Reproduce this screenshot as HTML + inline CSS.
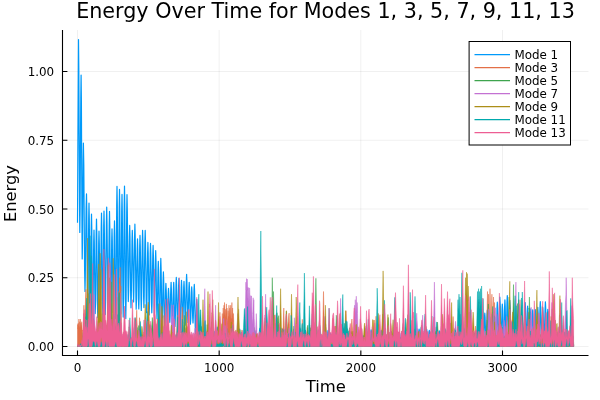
<!DOCTYPE html><html><head><meta charset="utf-8"><style>html,body{margin:0;padding:0;background:#fff;width:600px;height:400px;overflow:hidden}svg{display:block}</style></head><body>
<svg width="600" height="400" viewBox="0 0 600 400">
<rect width="600" height="400" fill="#fff"/>
<path d="M77.50 30V355.5M219.17 30V355.5M360.84 30V355.5M502.51 30V355.5M62.5 346.48H588.5M62.5 277.74H588.5M62.5 209.00H588.5M62.5 140.25H588.5M62.5 71.51H588.5" stroke="#000" stroke-opacity="0.1" stroke-width="0.6" fill="none"/>
<path d="M77.5 222.7 78.0 126.5 78.5 39.5 78.8 67.7 79.2 135.9 79.5 204.1 79.8 232.4 80.1 209.3 80.4 153.7 80.8 98.0 81.1 75.0 81.4 102.0 81.7 167.0 82.0 232.1 82.2 259.0 82.5 242.0 82.8 201.0 83.1 160.0 83.4 143.0 83.8 164.7 84.2 217.2 84.6 269.7 85.0 291.5 85.3 277.2 85.7 242.6 86.1 208.1 86.5 193.8 86.8 211.2 87.1 253.4 87.4 295.6 87.8 313.1 88.1 296.9 88.4 258.0 88.7 219.1 89.0 203.0 89.3 219.5 89.6 259.2 89.9 298.9 90.2 315.4 90.6 300.5 90.9 264.7 91.2 228.8 91.5 214.0 91.8 228.9 92.1 265.0 92.4 301.0 92.8 316.0 93.1 303.4 93.4 273.0 93.7 242.6 94.0 230.0 94.3 242.2 94.6 271.8 94.9 301.3 95.2 313.6 95.6 299.7 95.9 266.3 96.2 232.8 96.5 219.0 96.8 233.4 97.1 268.3 97.4 303.2 97.8 317.6 98.1 305.0 98.4 274.3 98.7 243.7 99.0 231.0 99.3 243.9 99.6 274.9 99.9 306.0 100.2 318.9 100.6 303.4 100.9 265.9 101.2 228.5 101.5 213.0 101.8 227.8 102.1 263.5 102.4 299.3 102.8 314.1 103.1 299.0 103.4 262.5 103.7 226.1 104.0 211.0 104.3 226.2 104.7 262.8 105.0 299.4 105.3 314.6 105.7 298.8 106.0 260.8 106.4 222.8 106.7 207.0 107.0 222.4 107.4 259.4 107.8 296.5 108.1 311.8 108.4 297.1 108.8 261.6 109.2 226.1 109.5 211.4 109.8 226.7 110.1 263.5 110.4 300.3 110.8 315.6 111.1 302.9 111.4 272.2 111.7 241.6 112.0 228.9 112.3 241.1 112.6 270.7 112.9 300.3 113.2 312.5 113.6 299.1 113.9 266.7 114.2 234.3 114.5 220.9 114.8 235.2 115.1 269.9 115.4 304.5 115.8 318.8 116.1 299.4 116.4 252.6 116.7 205.8 117.0 186.4 117.3 205.8 117.6 252.6 117.9 299.4 118.2 318.8 118.6 299.8 118.9 254.1 119.2 208.3 119.5 189.4 119.8 207.7 120.1 251.7 120.4 295.8 120.8 314.0 121.1 296.5 121.4 254.2 121.7 211.9 122.0 194.4 122.3 212.4 122.6 255.8 122.9 299.1 123.2 317.1 123.6 297.9 123.9 251.6 124.2 205.2 124.5 186.0 124.8 205.4 125.1 252.2 125.4 299.0 125.8 318.4 126.1 300.3 126.4 256.5 126.7 212.8 127.0 194.7 127.3 210.3 127.7 248.1 128.0 286.0 128.3 301.6 128.7 290.5 129.0 263.5 129.4 236.6 129.7 225.4 130.0 237.5 130.3 266.6 130.7 295.7 131.0 307.8 131.3 296.4 131.7 269.1 132.0 241.7 132.3 230.4 132.6 240.9 133.0 266.1 133.3 291.4 133.6 301.9 133.9 290.5 134.2 263.0 134.6 235.5 134.9 224.2 135.2 236.6 135.6 266.7 135.9 296.8 136.2 309.2 136.5 298.9 136.8 274.1 137.2 249.2 137.5 238.9 137.8 249.2 138.1 273.9 138.4 298.6 138.8 308.9 139.1 298.1 139.4 272.1 139.7 246.2 140.0 235.4 140.3 246.4 140.7 272.9 141.0 299.5 141.3 310.4 141.6 298.7 141.9 270.4 142.3 242.1 142.6 230.4 142.9 241.7 143.2 269.0 143.6 296.3 143.9 307.6 144.2 296.3 144.5 269.0 144.9 241.7 145.2 230.4 145.5 242.5 145.9 271.6 146.2 300.7 146.6 312.7 146.9 302.4 147.2 277.6 147.6 252.7 147.9 242.4 148.2 253.0 148.6 278.7 148.9 304.4 149.2 315.0 149.5 304.5 149.8 279.2 150.2 253.9 150.5 243.4 150.8 253.6 151.2 278.1 151.5 302.6 151.8 312.8 152.1 302.9 152.4 279.1 152.8 255.3 153.1 245.4 153.4 255.7 153.8 280.6 154.1 305.5 154.4 315.8 154.7 306.3 155.0 283.2 155.4 260.2 155.7 250.7 156.0 260.6 156.3 284.7 156.7 308.8 157.0 318.8 157.3 310.4 157.7 290.1 158.0 269.8 158.3 261.4 158.6 272.1 158.9 298.1 159.2 324.0 159.6 334.8 159.9 323.6 160.2 296.6 160.5 269.6 160.8 258.4 161.1 268.6 161.5 293.1 161.8 317.7 162.1 327.9 162.4 319.7 162.8 299.9 163.1 280.1 163.4 271.9 163.7 280.0 164.0 299.4 164.3 318.8 164.7 326.9 165.0 320.5 165.3 305.1 165.6 289.8 165.9 283.4 166.2 289.5 166.6 304.3 166.9 319.1 167.2 325.2 167.5 319.8 167.8 306.8 168.2 293.8 168.5 288.4 168.8 293.4 169.2 305.4 169.5 317.4 169.8 322.3 170.1 316.5 170.4 302.4 170.8 288.2 171.1 282.4 171.4 289.5 171.8 306.5 172.1 323.5 172.4 330.6 172.7 323.5 173.0 306.5 173.4 289.5 173.7 282.4 174.0 288.9 174.3 304.4 174.7 320.0 175.0 326.5 175.3 319.3 175.7 301.9 176.0 284.6 176.3 277.4 176.6 285.0 177.0 303.4 177.3 321.8 177.6 329.4 177.9 321.9 178.2 303.9 178.6 285.9 178.9 278.4 179.2 286.3 179.6 305.5 179.9 324.6 180.2 332.5 180.5 324.9 180.8 306.5 181.2 288.0 181.5 280.4 181.8 286.7 182.1 301.8 182.4 317.0 182.8 323.3 183.1 317.1 183.4 302.3 183.7 287.5 184.0 281.4 184.3 287.8 184.7 303.3 185.0 318.8 185.3 325.2 185.6 317.8 185.9 299.8 186.3 281.8 186.6 274.4 186.9 281.4 187.2 298.5 187.6 315.5 187.9 322.5 188.2 316.6 188.5 302.5 188.9 288.3 189.2 282.4 189.5 288.5 189.8 303.3 190.1 318.1 190.4 324.2 190.8 318.7 191.1 305.5 191.4 292.4 191.7 286.9 192.0 292.2 192.3 304.9 192.7 317.6 193.0 322.9 193.3 317.2 193.7 303.6 194.0 290.0 194.3 284.4 194.6 291.6 194.9 309.1 195.2 326.5 195.6 333.7 195.9 328.7 196.2 316.6 196.5 304.4 196.8 299.4 197.1 304.7 197.4 317.3 197.7 330.0 198.1 335.3 198.4 333.9 198.7 330.7 199.0 327.5 199.3 326.1 199.6 327.1 200.0 329.4 200.3 331.8 200.6 332.8 200.9 332.7 201.3 332.5 201.6 332.2 201.9 332.2 202.2 333.8 202.5 337.8 202.8 341.8 203.2 343.4 203.5 340.3 203.8 332.9 204.1 325.4 204.4 322.3 204.7 325.2 205.0 332.3 205.4 339.3 205.7 342.3 206.0 340.7 206.3 337.0 206.6 333.3 207.0 331.8 207.3 333.5 207.6 337.5 207.9 341.6 208.2 343.3 208.6 340.9 208.9 335.1 209.2 329.3 209.5 326.9 209.8 329.3 210.2 335.0 210.5 340.6 210.8 343.0 211.1 340.9 211.5 335.8 211.8 330.7 212.1 328.6 212.4 330.6 212.8 335.3 213.1 340.0 213.4 342.0 213.7 340.4 214.0 336.8 214.3 333.1 214.7 331.6 215.0 333.5 215.3 338.2 215.6 342.9 215.9 344.8 216.2 342.2 216.5 335.9 216.9 329.6 217.2 327.0 217.5 329.2 217.8 334.6 218.1 340.1 218.4 342.3 218.8 340.5 219.1 336.3 219.4 332.0 219.7 330.2 220.0 332.4 220.4 337.6 220.7 342.8 221.0 344.9 221.3 342.8 221.6 337.7 221.9 332.5 222.2 330.4 222.6 332.4 222.9 337.2 223.2 342.1 223.5 344.1 223.8 342.6 224.1 339.0 224.4 335.5 224.7 334.0 225.0 335.2 225.4 338.1 225.7 340.9 226.0 342.1 226.3 340.6 226.6 337.1 226.9 333.5 227.3 332.0 227.6 333.5 227.9 337.2 228.2 340.8 228.5 342.3 228.8 340.7 229.1 337.0 229.4 333.2 229.7 331.6 230.0 333.4 230.3 337.5 230.6 341.7 230.9 343.4 231.2 341.5 231.6 336.7 231.9 331.9 232.2 330.0 232.5 332.0 232.8 336.9 233.1 341.9 233.4 343.9 233.7 342.7 234.0 339.7 234.3 336.7 234.6 335.5 234.9 336.4 235.3 338.6 235.6 340.8 235.9 341.7 236.2 340.6 236.5 338.0 236.9 335.4 237.2 334.3 237.5 335.7 237.8 339.1 238.1 342.6 238.4 344.0 238.7 341.8 239.1 336.6 239.4 331.4 239.7 329.2 240.0 331.5 240.3 337.1 240.6 342.7 240.9 345.0 241.3 343.6 241.6 340.2 241.9 336.8 242.2 335.4 242.5 336.6 242.9 339.7 243.2 342.8 243.5 344.1 243.8 342.7 244.1 339.5 244.5 336.3 244.8 334.9 245.1 336.4 245.4 340.0 245.7 343.5 246.0 345.0 246.3 343.5 246.7 339.9 247.0 336.3 247.3 334.8 247.6 335.8 247.9 338.3 248.2 340.7 248.6 341.8 248.9 340.8 249.2 338.3 249.5 335.9 249.8 334.9 250.1 336.3 250.5 339.8 250.8 343.2 251.1 344.6 251.4 342.9 251.8 338.7 252.1 334.5 252.4 332.7 252.7 333.9 253.0 336.9 253.3 339.9 253.6 341.1 254.0 339.6 254.3 336.0 254.6 332.3 254.9 330.8 255.2 332.8 255.5 337.5 255.8 342.3 256.1 344.2 256.4 343.1 256.7 340.3 257.0 337.6 257.3 336.4 257.6 337.5 258.0 340.1 258.3 342.8 258.6 343.8 258.9 341.6 259.2 336.1 259.5 330.6 259.9 328.4 260.2 330.5 260.5 335.5 260.8 340.6 261.2 342.7 261.5 341.0 261.8 336.8 262.1 332.6 262.5 330.9 262.8 332.8 263.1 337.4 263.4 341.9 263.7 343.8 264.0 342.7 264.4 340.1 264.7 337.4 265.0 336.3 265.3 337.4 265.6 339.9 266.0 342.5 266.3 343.5 266.6 341.8 266.9 337.6 267.3 333.5 267.6 331.7 267.9 333.6 268.2 338.2 268.5 342.8 268.8 344.7 269.2 343.1 269.5 339.3 269.8 335.5 270.1 334.0 270.4 335.4 270.7 338.7 271.0 342.1 271.3 343.5 271.6 342.3 271.9 339.3 272.3 336.4 272.6 335.2 272.9 336.6 273.2 340.1 273.5 343.6 273.8 345.0 274.1 342.8 274.4 337.3 274.7 331.9 275.1 329.7 275.4 331.8 275.7 336.9 276.0 342.1 276.3 344.2 276.6 342.9 276.9 339.9 277.2 336.8 277.6 335.5 277.9 336.4 278.2 338.4 278.5 340.5 278.8 341.4 279.1 340.6 279.5 338.7 279.8 336.8 280.1 336.1 280.4 337.2 280.7 340.0 281.1 342.8 281.4 343.9 281.7 341.8 282.0 336.6 282.3 331.4 282.6 329.2 283.0 331.4 283.3 336.6 283.6 341.8 283.9 344.0 284.2 341.9 284.6 337.0 284.9 332.0 285.2 329.9 285.5 331.8 285.8 336.1 286.2 340.5 286.5 342.3 286.8 341.4 287.1 339.1 287.4 336.8 287.8 335.8 288.1 336.6 288.4 338.6 288.7 340.6 289.0 341.5 289.3 340.4 289.6 337.8 290.0 335.2 290.3 334.2 290.6 335.6 290.9 339.0 291.2 342.5 291.6 343.9 291.9 342.2 292.2 338.2 292.5 334.2 292.9 332.5 293.2 334.1 293.5 338.0 293.8 341.9 294.1 343.6 294.4 342.3 294.7 339.2 295.0 336.1 295.3 334.8 295.6 335.9 295.9 338.5 296.3 341.1 296.6 342.2 296.9 341.0 297.2 338.3 297.5 335.6 297.8 334.5 298.2 335.5 298.5 338.1 298.8 340.8 299.1 341.8 299.4 339.9 299.7 335.3 300.0 330.7 300.3 328.8 300.6 330.8 300.9 335.7 301.2 340.6 301.5 342.6 301.8 341.2 302.2 337.8 302.5 334.4 302.8 333.0 303.1 334.7 303.4 338.7 303.7 342.7 304.1 344.4 304.4 342.3 304.7 337.4 305.0 332.5 305.4 330.4 305.7 332.5 306.0 337.4 306.3 342.3 306.6 344.4 306.9 343.1 307.2 340.2 307.5 337.2 307.9 336.0 308.2 336.9 308.5 339.0 308.8 341.1 309.1 342.0 309.4 340.9 309.8 338.3 310.1 335.6 310.4 334.6 310.7 335.7 311.0 338.4 311.4 341.1 311.7 342.2 312.0 340.5 312.4 336.3 312.7 332.2 313.0 330.5 313.3 332.1 313.6 335.9 313.9 339.8 314.3 341.4 314.6 339.9 314.9 336.3 315.2 332.6 315.5 331.1 315.8 332.7 316.2 336.5 316.5 340.3 316.8 341.9 317.1 340.2 317.5 336.0 317.8 331.9 318.1 330.1 318.4 332.1 318.7 336.8 319.0 341.4 319.3 343.4 319.7 342.2 320.0 339.4 320.3 336.5 320.6 335.3 320.9 336.7 321.2 340.0 321.5 343.2 321.8 344.6 322.2 343.2 322.5 340.0 322.8 336.7 323.1 335.4 323.4 336.3 323.7 338.4 324.0 340.5 324.3 341.4 324.7 339.8 325.0 335.8 325.3 331.8 325.6 330.1 325.9 331.9 326.2 336.2 326.5 340.5 326.9 342.2 327.2 340.5 327.5 336.3 327.8 332.1 328.1 330.3 328.4 332.1 328.8 336.5 329.1 340.9 329.4 342.7 329.7 341.4 330.0 338.2 330.3 335.0 330.6 333.6 330.9 334.9 331.3 338.0 331.6 341.0 331.9 342.3 332.2 340.2 332.5 335.3 332.8 330.4 333.1 328.3 333.4 330.6 333.8 335.9 334.1 341.3 334.4 343.5 334.7 342.2 335.0 339.0 335.3 335.9 335.6 334.6 336.0 335.9 336.3 339.1 336.6 342.4 336.9 343.7 337.3 342.6 337.6 339.9 337.9 337.2 338.2 336.1 338.6 337.1 338.9 339.4 339.2 341.8 339.5 342.7 339.9 341.1 340.2 337.0 340.5 333.0 340.9 331.3 341.2 333.1 341.5 337.2 341.8 341.4 342.1 343.1 342.4 341.6 342.7 337.8 343.0 334.0 343.4 332.5 343.7 333.9 344.0 337.3 344.3 340.8 344.6 342.2 345.0 340.6 345.3 336.9 345.6 333.1 345.9 331.5 346.2 333.0 346.6 336.4 346.9 339.8 347.2 341.2 347.5 340.5 347.8 338.8 348.1 337.0 348.4 336.3 348.7 337.0 349.1 338.9 349.4 340.8 349.7 341.6 350.0 340.2 350.3 336.8 350.6 333.4 351.0 332.0 351.3 333.7 351.6 337.8 351.9 341.8 352.2 343.5 352.5 342.1 352.8 338.7 353.2 335.3 353.5 333.9 353.8 335.3 354.1 338.7 354.4 342.2 354.7 343.6 355.1 342.1 355.4 338.6 355.7 335.1 356.0 333.7 356.3 334.8 356.6 337.5 356.9 340.2 357.3 341.3 357.6 340.2 357.9 337.6 358.2 335.1 358.5 334.0 358.8 335.4 359.1 338.7 359.5 342.1 359.8 343.5 360.1 341.4 360.4 336.3 360.7 331.2 361.0 329.1 361.3 330.9 361.6 335.4 361.9 339.9 362.2 341.8 362.5 340.9 362.8 338.8 363.1 336.7 363.4 335.9 363.8 337.2 364.1 340.3 364.4 343.4 364.7 344.7 365.0 342.4 365.4 336.7 365.7 331.0 366.0 328.6 366.3 330.8 366.6 335.9 367.0 341.1 367.3 343.2 367.6 341.4 367.9 337.0 368.2 332.6 368.5 330.8 368.9 332.6 369.2 336.9 369.5 341.2 369.8 343.0 370.2 341.1 370.5 336.5 370.8 331.8 371.1 329.9 371.5 331.7 371.8 335.8 372.1 340.0 372.4 341.8 372.7 340.8 373.1 338.6 373.4 336.3 373.7 335.4 374.0 336.3 374.3 338.4 374.6 340.6 374.9 341.5 375.3 340.7 375.6 338.8 375.9 337.0 376.2 336.2 376.5 337.4 376.8 340.3 377.1 343.3 377.4 344.5 377.7 342.5 378.1 337.6 378.4 332.7 378.7 330.7 379.0 332.4 379.3 336.6 379.6 340.8 379.9 342.6 380.2 340.8 380.6 336.4 380.9 332.1 381.2 330.3 381.5 332.1 381.8 336.4 382.1 340.7 382.4 342.5 382.8 340.7 383.1 336.3 383.4 331.9 383.7 330.1 384.0 332.2 384.3 337.3 384.6 342.4 384.9 344.5 385.2 343.2 385.5 340.0 385.8 336.8 386.1 335.4 386.4 336.4 386.8 338.6 387.1 340.8 387.4 341.7 387.7 340.3 388.0 337.1 388.3 333.8 388.7 332.5 389.0 334.0 389.3 337.6 389.6 341.3 389.9 342.8 390.3 341.2 390.6 337.2 390.9 333.2 391.2 331.6 391.5 333.0 391.8 336.4 392.1 339.7 392.5 341.1 392.8 340.2 393.1 337.9 393.4 335.6 393.7 334.6 394.0 336.0 394.3 339.5 394.7 342.9 395.0 344.3 395.3 342.8 395.6 339.0 395.9 335.2 396.3 333.6 396.6 335.0 396.9 338.3 397.2 341.6 397.6 342.9 397.9 341.7 398.2 338.6 398.6 335.5 398.9 334.2 399.2 335.6 399.5 339.0 399.8 342.4 400.1 343.8 400.5 342.2 400.8 338.5 401.1 334.7 401.4 333.2 401.7 334.5 402.1 337.8 402.4 341.1 402.7 342.5 403.0 340.8 403.3 336.7 403.6 332.7 404.0 331.0 404.3 332.7 404.6 336.8 404.9 340.9 405.2 342.6 405.5 341.4 405.9 338.5 406.2 335.6 406.5 334.5 406.8 335.7 407.1 338.7 407.4 341.7 407.7 343.0 408.0 341.9 408.3 339.4 408.6 336.8 408.9 335.8 409.3 337.0 409.6 339.8 409.9 342.6 410.2 343.8 410.6 342.0 410.9 337.9 411.2 333.8 411.5 332.1 411.8 333.7 412.2 337.5 412.5 341.4 412.8 343.0 413.1 341.9 413.4 339.2 413.7 336.4 414.0 335.3 414.4 336.5 414.7 339.4 415.0 342.4 415.3 343.6 415.6 341.6 416.0 336.8 416.3 332.1 416.6 330.1 416.9 331.8 417.2 335.8 417.5 339.8 417.9 341.4 418.2 339.6 418.5 335.3 418.8 330.9 419.1 329.1 419.4 331.2 419.8 336.2 420.1 341.1 420.4 343.2 420.7 341.9 421.0 338.7 421.3 335.4 421.7 334.1 422.0 335.4 422.3 338.6 422.6 341.8 422.9 343.1 423.2 341.8 423.5 338.5 423.9 335.1 424.2 333.8 424.5 335.3 424.8 338.9 425.1 342.5 425.4 344.0 425.8 341.9 426.1 336.7 426.4 331.5 426.7 329.4 427.0 331.5 427.3 336.7 427.7 341.9 428.0 344.1 428.3 342.1 428.6 337.2 428.9 332.4 429.3 330.4 429.6 332.0 429.9 335.8 430.2 339.6 430.5 341.2 430.9 339.6 431.2 335.6 431.5 331.7 431.8 330.1 432.1 332.1 432.4 337.0 432.8 341.8 433.1 343.8 433.4 342.1 433.7 337.9 434.0 333.7 434.3 331.9 434.6 333.3 434.9 336.7 435.2 340.1 435.6 341.5 435.9 340.1 436.2 336.8 436.5 333.4 436.8 332.0 437.1 333.6 437.4 337.3 437.7 341.1 438.0 342.7 438.4 340.9 438.7 336.7 439.0 332.5 439.3 330.8 439.6 332.3 439.9 335.9 440.2 339.6 440.5 341.1 440.8 339.8 441.1 336.8 441.5 333.7 441.8 332.5 442.1 334.2 442.4 338.5 442.7 342.7 443.0 344.4 443.3 343.1 443.7 340.1 444.0 337.0 444.3 335.7 444.6 336.5 444.9 338.5 445.2 340.4 445.5 341.2 445.9 340.1 446.2 337.4 446.5 334.6 446.8 333.5 447.1 334.7 447.5 337.7 447.8 340.7 448.1 341.9 448.4 340.4 448.8 336.7 449.1 333.0 449.4 331.5 449.7 333.1 450.1 337.1 450.4 341.1 450.7 342.8 451.0 341.3 451.3 337.9 451.6 334.5 452.0 333.0 452.3 334.4 452.6 337.6 452.9 340.8 453.2 342.2 453.5 341.2 453.8 338.8 454.1 336.4 454.4 335.4 454.7 336.4 455.1 338.8 455.4 341.1 455.7 342.1 456.0 340.8 456.3 337.6 456.7 334.5 457.0 333.2 457.3 334.6 457.6 338.2 457.9 341.8 458.2 343.3 458.6 341.7 458.9 337.9 459.2 334.0 459.5 332.5 459.8 333.9 460.1 337.5 460.5 341.0 460.8 342.5 461.1 341.0 461.4 337.4 461.7 333.8 462.0 332.4 462.4 334.1 462.7 338.3 463.0 342.4 463.3 344.2 463.6 343.0 463.9 340.3 464.3 337.6 464.6 336.5 464.9 337.7 465.2 340.8 465.5 343.8 465.8 345.0 466.2 343.2 466.5 338.9 466.8 334.6 467.1 332.8 467.4 334.2 467.8 337.6 468.1 340.9 468.4 342.3 468.7 341.4 469.0 339.3 469.4 337.1 469.7 336.2 470.0 337.2 470.3 339.7 470.6 342.1 470.9 343.1 471.2 341.5 471.5 337.7 471.8 333.8 472.2 332.2 472.5 333.5 472.8 336.8 473.1 340.0 473.5 341.4 473.8 340.2 474.1 337.2 474.4 334.3 474.8 333.1 475.1 334.7 475.4 338.6 475.7 342.4 476.0 344.0 476.3 342.1 476.6 337.4 476.9 332.6 477.2 330.7 477.6 332.3 477.9 336.2 478.2 340.1 478.5 341.7 478.8 340.6 479.1 338.0 479.4 335.3 479.7 334.2 480.1 335.2 480.4 337.6 480.7 340.0 481.0 341.0 481.3 339.3 481.6 335.2 482.0 331.1 482.3 329.4 482.6 331.2 482.9 335.4 483.2 339.6 483.5 341.4 483.9 337.3 484.2 327.3 484.5 317.3 484.8 313.2 485.1 317.3 485.4 327.2 485.7 337.0 486.0 341.1 486.4 336.6 486.7 325.6 487.0 314.5 487.3 310.0 487.6 315.0 487.9 327.2 488.2 339.4 488.5 344.4 488.8 340.4 489.1 330.7 489.4 321.0 489.7 317.0 490.0 321.0 490.4 330.7 490.7 340.4 491.0 344.4 491.3 340.0 491.7 329.2 492.0 318.5 492.3 314.0 492.6 318.4 492.9 329.1 493.2 339.7 493.6 344.2 493.9 340.2 494.2 330.6 494.5 321.1 494.8 317.1 495.1 321.0 495.4 330.4 495.7 339.7 496.1 343.6 496.4 337.6 496.7 322.9 497.0 308.3 497.3 302.2 497.6 308.4 497.9 323.4 498.3 338.4 498.6 344.6 498.9 337.7 499.2 320.9 499.5 304.1 499.8 297.1 500.2 304.0 500.5 320.8 500.8 337.5 501.1 344.5 501.4 338.6 501.7 324.3 502.0 310.0 502.3 304.1 502.7 310.1 503.0 324.6 503.3 339.0 503.6 345.0 503.9 338.4 504.3 322.5 504.6 306.5 504.9 299.9 505.2 306.0 505.5 320.6 505.8 335.2 506.1 341.3 506.4 334.6 506.7 318.4 507.0 302.3 507.3 295.6 507.7 302.7 508.0 319.6 508.3 336.6 508.6 343.6 508.9 337.3 509.2 322.0 509.5 306.7 509.8 300.4 510.2 306.6 510.5 321.5 510.8 336.4 511.1 342.5 511.5 341.2 511.8 338.0 512.1 334.9 512.4 333.6 512.7 335.0 513.0 338.4 513.4 341.8 513.7 343.2 514.0 341.6 514.3 337.5 514.6 333.5 514.9 331.8 515.2 333.3 515.6 336.9 515.9 340.5 516.2 342.0 516.5 340.4 516.8 336.6 517.2 332.7 517.5 331.1 517.8 332.7 518.1 336.4 518.4 340.2 518.8 341.8 519.1 339.9 519.4 335.4 519.7 330.9 520.1 329.0 520.4 331.2 520.7 336.3 521.0 341.4 521.3 343.5 521.7 342.4 522.0 339.6 522.3 336.8 522.6 335.6 522.9 336.7 523.3 339.3 523.6 341.8 523.9 342.9 524.2 337.0 524.5 322.8 524.9 308.6 525.2 302.7 525.5 308.9 525.8 323.7 526.1 338.6 526.4 344.7 526.7 339.1 527.0 325.4 527.3 311.8 527.6 306.1 527.9 311.7 528.2 325.0 528.5 338.4 528.9 343.9 529.2 338.8 529.5 326.4 529.8 314.0 530.1 308.9 530.5 314.0 530.8 326.5 531.1 339.0 531.4 344.2 531.7 339.2 532.0 327.0 532.4 314.9 532.7 309.9 533.0 314.8 533.3 326.9 533.7 338.9 534.0 343.8 534.3 338.8 534.6 326.6 535.0 314.5 535.3 309.5 535.6 314.5 535.9 326.6 536.2 338.7 536.5 343.8 536.9 338.4 537.2 325.5 537.5 312.6 537.8 307.3 538.1 312.5 538.4 325.0 538.7 337.5 539.1 342.7 539.4 336.7 539.7 322.1 540.0 307.5 540.3 301.5 540.6 307.7 540.9 322.6 541.2 337.5 541.5 343.7 541.9 338.4 542.2 325.6 542.5 312.8 542.8 307.5 543.1 312.8 543.5 325.6 543.8 338.4 544.1 343.8 544.4 337.6 544.7 322.8 545.1 308.0 545.4 301.9 545.7 307.7 546.0 321.8 546.3 335.8 546.6 341.7 546.9 336.9 547.2 325.5 547.5 314.1 547.8 309.4 548.1 314.6 548.4 327.2 548.7 339.8 549.1 345.1 549.4 343.1 549.7 338.4 550.0 333.6 550.3 331.7 550.6 333.6 551.0 338.4 551.3 343.1 551.6 345.1 551.9 343.7 552.2 340.3 552.5 336.9 552.9 335.5 553.2 336.9 553.5 340.2 553.8 343.5 554.1 344.9 554.4 343.2 554.8 339.1 555.1 335.0 555.4 333.4 555.7 334.6 556.0 337.4 556.4 340.3 556.7 341.5 557.0 340.2 557.3 336.9 557.7 333.7 558.0 332.3 558.3 333.8 558.6 337.4 558.9 341.0 559.2 342.5 559.6 340.5 559.9 335.8 560.2 331.0 560.5 329.1 560.8 331.0 561.1 335.6 561.4 340.2 561.7 342.1 562.1 340.3 562.4 336.0 562.7 331.8 563.0 330.0 563.3 331.6 563.6 335.6 564.0 339.5 564.3 341.2 564.6 339.9 564.9 336.7 565.3 333.6 565.6 332.3 565.9 334.0 566.2 338.2 566.5 342.5 566.8 344.2 567.1 342.6 567.5 338.7 567.8 334.9 568.1 333.3 568.4 334.5 568.7 337.3 569.0 340.1 569.3 341.3 569.6 339.7 570.0 335.7 570.3 331.6 570.6 330.0 570.9 332.1 571.2 337.0 571.5 342.0 571.8 344.1 572.1 343.0 572.4 340.2 572.8 337.5 573.1 336.3" stroke="#009AFA" fill="none" stroke-width="1.2" stroke-linejoin="round"/>
<path d="M77.5 324.5 77.5 324.5 77.9 329.0 78.2 323.1 78.3 325.1 78.7 323.6 78.9 319.0 79.1 323.6 79.5 323.8 79.6 321.7 79.9 327.9 80.3 319.0 80.3 319.0 80.7 328.1 81.0 323.1 81.1 325.1 81.5 325.9 81.7 321.7 81.9 325.9 82.3 331.4 82.4 330.0 82.7 334.1 83.1 337.1 83.5 321.1 83.9 305.2 84.3 318.2 84.7 324.5 85.1 312.2 85.5 299.9 85.9 289.4 86.3 301.8 86.7 314.1 87.1 319.1 87.5 324.0 87.9 329.7 88.3 335.3 88.7 341.0 89.1 343.4 89.5 342.3 89.9 343.7 90.3 342.9 90.7 342.4 91.1 342.7 91.5 343.0 91.9 342.1 92.3 344.3 92.7 344.3 93.1 343.1 93.5 342.1 93.9 342.8 94.3 343.8 94.7 344.3 95.1 343.4 95.5 343.3 95.9 343.3 96.3 343.0 96.7 343.8 97.1 342.3 97.5 338.1 97.9 333.3 98.3 328.4 98.7 326.0 99.1 330.8 99.5 335.7 99.9 325.6 100.3 305.7 100.7 315.9 101.1 335.8 101.5 342.3 101.9 343.9 102.3 344.1 102.7 342.6 103.1 342.0 103.5 342.1 103.9 342.6 104.3 342.2 104.7 342.0 105.1 343.1 105.5 344.2 105.9 342.4 106.3 343.5 106.7 343.7 107.1 343.3 107.5 344.5 107.9 344.5 108.3 343.9 108.7 343.0 109.1 342.6 109.5 342.1 109.9 336.1 110.3 325.9 110.7 315.7 111.1 305.6 111.5 303.3 111.9 313.5 112.3 323.6 112.7 327.4 113.1 319.1 113.5 310.8 113.9 317.8 114.3 326.1 114.7 334.4 115.1 339.9 115.5 341.2 115.9 343.6 116.3 343.8 116.7 343.7 117.1 342.7 117.5 341.9 117.9 323.6 118.3 305.2 118.6 291.5 118.7 296.1 119.1 294.9 119.4 277.7 119.5 283.5 119.9 280.5 120.1 267.3 120.3 280.5 120.7 291.0 120.8 286.0 121.1 301.1 121.5 321.3 121.9 334.9 122.3 338.2 122.7 341.5 123.1 344.4 123.5 344.8 123.9 345.0 124.3 344.8 124.7 345.1 125.1 344.7 125.5 343.6 125.9 342.0 126.3 340.5 126.7 340.9 127.1 342.4 127.5 344.0 127.9 345.0 128.3 344.6 128.7 345.4 129.1 345.1 129.5 344.5 129.9 344.7 130.3 344.7 130.7 344.1 131.1 345.2 131.5 345.1 131.9 344.6 132.3 344.6 132.7 343.9 133.1 343.2 133.5 340.4 133.9 337.7 134.3 336.7 134.7 337.7 135.1 328.0 135.5 318.3 135.9 325.6 136.3 323.1 136.7 310.2 137.1 322.9 137.5 335.8 137.9 344.0 138.3 343.9 138.7 340.0 139.1 328.8 139.5 317.7 139.9 321.9 140.3 333.0 140.7 343.4 141.1 344.7 141.5 343.9 141.9 344.9 142.3 344.2 142.7 344.9 143.1 344.1 143.5 344.1 143.9 344.4 144.3 344.4 144.7 343.7 145.1 343.8 145.5 342.6 145.9 341.8 146.3 343.0 146.7 343.4 147.1 341.1 147.5 330.2 147.9 319.3 148.3 308.5 148.7 304.6 149.1 315.5 149.5 326.4 149.9 324.3 150.3 331.7 150.7 339.0 151.1 336.0 151.5 332.0 151.9 328.2 152.3 332.3 152.7 336.3 153.1 340.4 153.5 336.3 153.9 329.0 154.3 321.6 154.7 314.2 155.1 316.4 155.5 323.8 155.9 331.2 156.3 338.6 156.7 344.4 157.1 344.7 157.5 344.1 157.9 344.3 158.3 344.2 158.7 343.1 159.1 328.8 159.5 314.5 159.9 303.4 160.3 317.7 160.7 328.7 161.1 320.3 161.5 328.7 161.9 337.1 162.3 335.1 162.7 332.1 163.1 335.2 163.5 328.0 163.9 315.4 164.3 319.6 164.7 332.2 165.1 337.6 165.5 333.6 165.9 338.7 166.3 343.8 166.7 344.6 167.1 344.3 167.5 344.9 167.9 343.7 168.3 343.7 168.7 337.3 169.1 330.6 169.5 338.0 169.9 344.7 170.3 344.0 170.7 343.5 171.1 344.0 171.5 339.0 171.9 332.8 172.3 326.7 172.7 322.0 173.1 328.2 173.5 334.3 173.9 340.5 174.3 344.9 174.7 344.9 175.1 345.0 175.5 344.2 175.9 341.9 176.3 338.6 176.7 330.8 177.1 323.0 177.5 315.3 177.9 323.1 178.3 331.0 178.7 338.8 179.1 335.6 179.5 331.6 179.9 338.4 180.3 344.9 180.7 338.9 181.1 330.6 181.5 322.3 181.9 314.1 182.3 306.9 182.7 315.2 183.1 323.4 183.5 331.7 183.9 340.0 184.3 341.4 184.7 339.0 185.1 340.7 185.5 343.1 185.9 344.1 186.3 344.1 186.7 345.1 187.1 343.6 187.5 344.7 187.9 344.2 188.3 344.2 188.7 343.6 189.1 344.1 189.5 343.4 189.9 344.8 190.3 344.0 190.7 344.2 191.1 344.3 191.5 344.1 191.9 342.9 192.3 344.3 192.7 344.1 193.1 345.1 193.5 344.4 193.9 344.4 194.3 344.8 194.7 344.2 195.1 344.1 195.5 345.0 195.9 344.7 196.3 345.1 196.7 344.2 197.1 345.1 197.5 341.7 197.9 335.6 198.3 338.5 198.7 344.7 199.1 343.7 199.5 343.5 199.9 338.9 200.3 334.4 200.7 329.8 201.1 329.4 201.5 333.9 201.9 338.5 202.3 340.4 202.7 337.6 203.1 340.1 203.5 342.9 203.9 345.1 204.3 344.8 204.7 344.4 205.1 343.6 205.5 342.9 205.9 343.2 206.3 343.9 206.7 344.2 207.1 345.1 207.5 344.4 207.9 344.1 208.3 344.2 208.7 343.9 209.1 344.2 209.5 343.7 209.9 345.1 210.3 344.1 210.7 344.5 211.1 344.2 211.5 344.6 211.9 345.0 212.3 344.3 212.7 345.2 213.1 343.8 213.5 337.8 213.9 338.4 214.3 344.3 214.7 344.4 215.1 343.6 215.5 345.2 215.9 344.7 216.3 344.6 216.7 343.9 217.1 344.0 217.5 341.6 217.9 334.3 218.3 327.0 218.7 319.7 219.1 321.7 219.5 325.0 219.9 312.3 220.3 322.3 220.7 332.3 221.1 339.4 221.5 335.5 221.9 324.5 222.3 313.5 222.3 313.5 222.7 324.0 223.1 311.2 223.2 308.0 223.5 317.6 223.9 308.7 224.0 305.2 224.3 309.8 224.5 302.5 224.7 309.6 225.1 317.3 225.5 309.3 225.6 310.7 225.9 317.1 226.3 307.4 226.4 303.9 226.7 314.5 227.0 308.0 227.1 311.2 227.5 324.0 227.9 316.7 228.1 310.7 228.3 316.7 228.7 315.5 229.0 305.2 229.1 308.7 229.5 317.6 229.8 308.0 229.9 311.2 230.3 319.0 230.7 305.2 230.7 305.2 231.1 319.0 231.5 317.1 231.9 302.5 231.9 302.5 232.3 317.1 232.6 308.0 232.7 311.2 233.1 321.7 233.4 313.5 233.5 316.2 233.9 327.2 234.3 338.2 234.7 344.0 235.1 340.0 235.5 337.0 235.9 342.5 236.3 343.1 236.7 336.6 237.1 330.0 237.5 323.4 237.9 329.6 238.3 336.2 238.7 342.8 239.1 345.0 239.5 344.0 239.9 345.0 240.3 344.9 240.7 344.8 241.1 344.3 241.5 343.9 241.9 343.3 242.3 341.1 242.7 338.8 243.1 336.6 243.5 337.7 243.9 332.4 244.3 335.1 244.7 344.4 245.1 344.2 245.5 345.1 245.9 344.6 246.3 345.1 246.7 344.7 247.1 344.0 247.5 344.7 247.9 344.1 248.3 344.0 248.7 342.9 249.1 341.7 249.5 340.8 249.9 338.1 250.3 338.9 250.7 341.6 251.1 343.9 251.5 345.2 251.9 344.4 252.3 344.7 252.7 344.3 253.1 345.1 253.5 344.0 253.9 344.5 254.3 343.7 254.7 345.2 255.1 343.3 255.5 338.7 255.9 334.1 256.3 330.1 256.7 334.7 257.1 339.3 257.5 343.9 257.9 344.5 258.3 344.8 258.7 343.7 259.1 341.6 259.5 337.8 259.9 334.1 260.3 336.1 260.7 339.8 261.1 343.6 261.5 343.8 261.9 344.0 262.3 344.1 262.7 344.1 263.1 344.3 263.5 340.1 263.9 330.5 264.3 321.0 264.7 317.8 265.1 327.3 265.5 336.8 265.9 344.5 266.3 343.9 266.7 344.0 267.1 342.9 267.5 341.8 267.9 344.2 268.3 345.1 268.7 345.0 269.1 344.7 269.5 344.4 269.9 344.7 270.3 344.1 270.7 338.3 271.1 332.5 271.5 335.8 271.9 341.6 272.3 344.1 272.7 344.6 273.1 343.8 273.5 344.2 273.9 344.1 274.3 344.9 274.7 341.6 275.1 338.4 275.5 335.1 275.9 335.2 276.3 338.5 276.7 341.7 277.1 344.0 277.5 343.6 277.9 343.7 278.3 344.5 278.7 343.9 279.1 345.2 279.5 345.1 279.9 344.3 280.3 344.4 280.7 343.9 281.1 340.7 281.5 334.9 281.9 327.8 282.3 332.6 282.7 332.9 283.1 328.8 283.5 316.0 283.8 308.0 283.9 312.8 284.3 325.6 284.7 338.5 285.1 343.2 285.5 344.4 285.9 344.5 286.3 344.3 286.7 341.3 287.1 335.9 287.5 330.4 287.9 324.9 288.3 321.5 288.7 315.7 289.1 313.1 289.5 323.4 289.9 333.8 290.3 341.0 290.7 339.8 291.1 341.4 291.5 342.9 291.9 344.5 292.3 344.0 292.7 338.1 293.1 332.3 293.5 329.1 293.9 334.9 294.3 340.8 294.7 344.5 295.1 341.6 295.5 337.4 295.9 333.2 296.3 329.1 296.7 332.5 297.1 336.7 297.5 340.9 297.9 344.3 298.3 344.8 298.7 344.8 299.1 339.8 299.5 332.4 299.9 327.5 300.3 334.9 300.7 337.0 301.1 338.5 301.5 341.0 301.9 332.6 302.3 319.3 302.7 330.2 303.1 339.5 303.5 336.7 303.9 333.5 304.3 333.0 304.7 336.2 305.1 339.4 305.5 342.6 305.9 344.2 306.3 341.4 306.7 334.5 307.1 327.6 307.5 328.1 307.9 335.0 308.3 340.8 308.7 338.2 309.1 331.5 309.5 324.8 309.9 325.0 310.3 331.7 310.7 338.0 311.1 331.7 311.5 325.3 311.9 327.2 312.3 333.6 312.7 339.9 313.1 344.3 313.5 344.3 313.9 344.3 314.3 344.2 314.7 344.3 315.1 345.2 315.5 341.8 315.9 338.5 316.3 342.1 316.7 344.6 317.1 344.9 317.5 343.9 317.9 344.8 318.3 345.0 318.7 344.0 319.1 344.1 319.5 343.9 319.9 343.3 320.3 341.8 320.7 340.2 321.1 339.7 321.5 341.2 321.9 342.8 322.3 344.3 322.7 328.1 323.1 309.8 323.5 291.5 323.5 291.5 323.9 309.8 324.3 322.0 324.7 331.0 325.1 340.1 325.5 344.3 325.9 344.5 326.3 344.2 326.7 343.8 327.1 343.8 327.5 345.0 327.9 345.1 328.3 344.9 328.7 345.1 329.1 344.1 329.5 344.0 329.9 345.1 330.3 345.2 330.7 344.8 331.1 344.2 331.5 344.1 331.9 344.6 332.3 332.7 332.7 318.4 333.1 319.1 333.5 333.4 333.9 344.2 334.3 343.3 334.7 339.6 335.1 337.2 335.5 340.9 335.9 339.9 336.3 336.5 336.7 334.6 337.1 338.0 337.5 341.4 337.9 344.3 338.3 338.6 338.7 331.6 339.1 324.6 339.5 317.5 339.9 313.7 340.3 320.8 340.7 327.8 341.1 333.8 341.5 333.3 341.9 332.8 342.3 328.5 342.7 327.3 343.1 331.6 343.5 335.9 343.9 340.2 344.3 344.5 344.7 345.3 345.1 337.5 345.5 325.6 345.9 313.7 346.0 310.7 346.3 319.7 346.7 331.6 347.1 343.5 347.5 344.2 347.9 344.9 348.3 344.2 348.7 344.0 349.1 344.3 349.5 343.2 349.9 344.2 350.3 344.1 350.7 343.1 351.1 337.7 351.5 324.2 351.9 319.0 352.3 326.1 352.7 331.6 353.1 337.1 353.5 342.6 353.9 343.3 354.3 342.4 354.7 342.8 355.1 338.3 355.5 331.0 355.9 323.7 356.3 316.4 356.7 319.9 357.1 327.2 357.5 334.5 357.9 341.9 358.3 340.9 358.7 341.7 359.1 338.9 359.5 332.4 359.9 325.8 360.3 319.2 360.7 322.8 361.1 327.3 361.5 334.1 361.9 328.6 362.3 333.1 362.7 339.9 363.1 341.5 363.5 343.6 363.9 344.8 364.3 344.8 364.7 345.5 365.1 342.5 365.5 336.8 365.9 335.0 366.3 340.7 366.7 344.8 367.1 344.8 367.5 344.9 367.9 345.3 368.3 344.5 368.7 345.1 369.1 344.6 369.5 344.9 369.9 344.6 370.3 343.8 370.7 343.0 371.1 342.6 371.5 343.5 371.9 344.3 372.3 344.5 372.7 344.1 373.1 344.8 373.5 332.5 373.9 320.1 374.3 320.3 374.7 332.8 375.1 338.9 375.5 328.8 375.9 318.8 376.0 316.2 376.3 323.8 376.7 333.9 377.1 335.2 377.5 333.6 377.9 336.8 378.3 339.9 378.7 343.1 379.1 344.2 379.5 343.5 379.9 344.1 380.3 344.7 380.7 345.3 381.1 341.3 381.5 334.2 381.9 327.2 382.3 321.8 382.7 314.1 383.1 320.0 383.5 327.7 383.9 335.4 384.3 340.2 384.7 341.8 385.1 343.6 385.5 344.6 385.9 342.5 386.3 337.9 386.7 334.1 387.1 338.8 387.5 343.4 387.9 344.0 388.3 345.0 388.7 343.4 389.1 341.1 389.5 338.8 389.9 336.6 390.3 336.1 390.7 338.4 391.1 340.6 391.5 342.9 391.9 345.2 392.3 343.9 392.7 345.1 393.1 344.3 393.5 344.7 393.9 345.0 394.3 344.8 394.7 344.7 395.1 344.8 395.5 345.0 395.9 344.8 396.3 344.7 396.7 342.4 397.1 339.7 397.5 336.9 397.9 339.0 398.3 341.7 398.7 344.4 399.1 344.6 399.5 343.9 399.9 345.1 400.3 344.1 400.7 345.2 401.1 345.1 401.5 344.4 401.9 345.1 402.3 344.5 402.7 344.4 403.1 345.2 403.5 344.2 403.9 344.7 404.3 343.9 404.7 345.3 405.1 345.2 405.5 344.4 405.9 345.0 406.3 339.3 406.7 332.6 407.1 340.0 407.5 345.3 407.9 345.1 408.3 344.5 408.7 344.2 409.1 344.2 409.5 344.6 409.9 345.0 410.3 345.1 410.7 345.0 411.1 336.9 411.5 328.6 411.9 320.3 412.3 322.6 412.7 330.9 413.1 338.9 413.5 336.0 413.9 333.2 414.3 334.4 414.7 337.2 415.1 340.1 415.5 342.9 415.9 343.0 416.3 339.0 416.7 335.0 417.1 330.9 417.5 328.7 417.9 331.4 418.3 332.1 418.7 337.4 419.1 342.7 419.5 344.3 419.9 343.8 420.3 344.7 420.7 344.3 421.1 345.2 421.5 345.1 421.9 344.9 422.3 344.9 422.7 344.6 423.1 345.0 423.5 343.8 423.9 344.6 424.3 344.7 424.7 343.9 425.1 344.1 425.5 344.1 425.9 343.9 426.3 344.1 426.7 344.8 427.1 343.8 427.5 345.3 427.9 343.9 428.3 344.6 428.7 344.8 429.1 343.7 429.5 340.0 429.9 336.2 430.3 332.4 430.7 332.1 431.1 334.6 431.5 338.3 431.9 342.1 432.3 344.1 432.7 345.2 433.1 344.7 433.5 345.0 433.9 343.9 434.3 343.8 434.7 340.6 435.1 336.1 435.5 331.7 435.9 327.3 436.3 326.7 436.7 331.1 437.1 335.5 437.5 340.0 437.9 344.4 438.3 344.3 438.7 344.0 439.1 343.7 439.5 344.7 439.9 342.4 440.3 336.8 440.7 331.3 441.1 335.8 441.5 341.4 441.9 344.1 442.3 345.1 442.7 343.6 443.1 342.0 443.5 341.1 443.9 342.7 444.3 344.4 444.7 344.5 445.1 345.1 445.5 344.3 445.9 343.8 446.3 345.2 446.7 345.1 447.1 344.3 447.5 344.7 447.9 344.8 448.3 343.6 448.7 344.7 449.1 343.7 449.5 344.2 449.9 345.2 450.3 344.3 450.7 343.2 451.1 342.0 451.5 341.9 451.9 338.5 452.3 335.0 452.7 325.9 453.1 316.5 453.5 326.5 453.9 333.9 454.3 328.4 454.7 333.4 455.1 339.0 455.5 343.8 455.9 344.0 456.3 344.7 456.7 344.0 457.1 344.7 457.5 344.4 457.9 343.7 458.3 344.8 458.7 344.8 459.1 343.6 459.5 344.3 459.9 344.8 460.3 344.6 460.7 344.6 461.1 343.5 461.5 344.3 461.9 341.6 462.3 337.2 462.7 336.9 463.1 341.3 463.5 344.1 463.9 343.7 464.3 344.6 464.7 344.9 465.1 344.0 465.5 345.0 465.9 344.2 466.3 343.9 466.7 343.6 467.1 342.6 467.5 339.4 467.9 336.3 468.3 333.1 468.7 335.8 469.1 339.0 469.5 342.1 469.9 344.5 470.3 344.4 470.7 341.6 471.1 338.8 471.5 336.1 471.9 335.2 472.3 338.0 472.7 340.8 473.1 343.6 473.5 343.7 473.9 343.8 474.3 343.7 474.7 343.7 475.1 334.2 475.5 326.1 475.9 335.6 476.3 343.9 476.7 339.9 477.1 333.4 477.5 326.8 477.9 329.7 478.3 336.3 478.7 342.9 479.1 344.2 479.5 344.7 479.9 344.0 480.3 343.2 480.7 343.3 481.1 344.7 481.5 344.5 481.9 336.1 482.3 334.2 482.7 342.8 483.1 341.0 483.5 340.0 483.9 340.3 484.3 342.6 484.7 344.5 485.1 343.9 485.5 343.2 485.9 344.1 486.3 342.6 486.7 328.1 487.1 309.8 487.5 291.5 487.5 291.5 487.9 309.8 488.3 302.9 488.5 294.2 488.7 302.9 489.1 320.4 489.5 312.8 489.9 293.5 490.0 288.7 490.3 303.2 490.7 322.4 491.1 329.1 491.5 311.7 491.9 294.2 491.9 294.2 492.3 311.7 492.7 322.1 493.1 313.5 493.5 297.0 493.5 297.0 493.9 313.5 494.3 309.8 494.5 302.5 494.7 309.8 495.1 324.5 495.5 336.6 495.9 329.2 496.3 324.3 496.7 331.7 497.1 339.1 497.5 343.3 497.9 343.4 498.3 343.9 498.7 344.4 499.1 343.5 499.5 344.6 499.9 342.6 500.3 340.0 500.7 336.7 501.1 333.4 501.5 334.3 501.9 337.6 502.3 340.9 502.7 342.7 503.1 340.9 503.5 339.2 503.9 340.1 504.3 341.9 504.7 343.6 505.1 343.8 505.5 342.7 505.9 343.3 506.3 343.5 506.7 343.6 507.1 343.3 507.5 343.4 507.9 343.7 508.3 343.6 508.7 344.5 509.1 343.8 509.5 343.3 509.9 344.3 510.3 344.2 510.7 343.0 511.1 344.5 511.5 344.3 511.9 342.9 512.3 344.5 512.7 344.1 513.1 342.7 513.5 343.9 513.9 343.0 514.3 340.8 514.7 329.5 515.1 329.9 515.5 341.1 515.9 343.1 516.3 340.2 516.7 337.2 517.1 334.3 517.5 328.5 517.9 321.9 518.3 321.2 518.7 327.8 519.1 334.5 519.5 319.2 519.9 303.6 520.0 299.7 520.3 311.4 520.7 327.0 521.1 342.6 521.5 343.9 521.9 343.0 522.3 344.7 522.7 341.4 523.1 336.2 523.5 331.0 523.9 327.4 524.3 332.6 524.7 337.8 525.1 343.0 525.5 336.7 525.9 331.4 526.3 339.5 526.7 343.3 527.1 342.0 527.5 332.0 527.9 322.1 528.3 312.2 528.7 321.4 529.1 331.3 529.5 341.2 529.9 344.1 530.3 341.6 530.7 339.1 531.1 336.6 531.5 338.2 531.9 340.7 532.3 340.8 532.7 333.1 533.1 327.8 533.5 335.5 533.9 342.9 534.3 343.9 534.7 343.4 535.1 343.4 535.5 344.5 535.9 343.6 536.3 343.9 536.7 344.5 537.1 344.8 537.5 342.7 537.9 344.7 538.3 343.0 538.7 344.1 539.1 344.7 539.5 342.8 539.9 343.5 540.3 344.0 540.7 343.1 541.1 343.0 541.5 340.9 541.9 334.7 542.3 333.3 542.7 339.6 543.1 343.4 543.5 342.9 543.9 343.4 544.3 343.2 544.7 341.6 545.1 334.6 545.5 327.6 545.9 330.0 546.3 337.0 546.7 343.6 547.1 344.8 547.5 344.8 547.9 344.3 548.3 343.2 548.7 343.1 549.1 341.6 549.5 340.2 549.9 339.7 550.3 341.2 550.7 342.7 551.1 344.2 551.5 343.4 551.9 344.3 552.3 344.1 552.7 344.2 553.1 344.8 553.5 343.2 553.9 344.6 554.3 344.3 554.7 343.4 555.1 333.3 555.5 320.2 555.9 333.4 556.3 343.8 556.7 342.6 557.1 340.4 557.5 338.1 557.9 336.9 558.3 339.1 558.7 341.4 559.1 342.9 559.5 343.3 559.9 343.9 560.3 343.6 560.7 343.6 561.1 343.5 561.5 342.9 561.9 341.1 562.3 337.1 562.7 333.4 563.1 337.5 563.5 341.5 563.9 343.1 564.3 344.9 564.7 343.1 565.1 343.1 565.5 344.6 565.9 343.4 566.3 344.4 566.7 344.4 567.1 343.0 567.5 343.2 567.9 343.4 568.3 344.1 568.7 343.0 569.1 343.8 569.5 343.0 569.9 343.3 570.3 337.5 570.7 331.8 571.1 329.6 571.5 335.4 571.9 341.2 572.3 344.9 572.7 343.3 573.1 344.1 573.5 344.6 573.6 344.6 573.6 346.5 519.5 346.5 519.0 345.9 518.5 344.7 518.0 344.9 517.5 346.5 498.5 346.5 498.0 345.9 497.5 345.1 497.0 346.5 494.0 346.5 493.5 346.0 493.0 345.6 492.5 346.5 477.0 346.5 476.5 346.1 476.0 345.6 475.5 346.1 475.0 346.5 467.5 346.5 467.0 345.8 466.5 345.6 466.0 346.1 465.5 346.5 437.5 346.5 437.0 346.4 436.5 344.5 436.0 346.5 422.5 346.5 422.0 346.4 421.5 345.2 421.0 345.5 420.5 346.5 417.0 346.5 416.5 345.7 416.0 345.6 415.5 346.1 415.0 346.5 408.0 346.5 407.5 345.2 407.0 345.7 406.5 346.5 394.0 346.5 393.5 344.9 393.0 344.4 392.5 346.2 392.0 346.5 366.5 346.5 366.0 345.3 365.5 344.8 365.0 345.5 364.5 346.5 345.0 346.5 344.5 346.1 344.0 345.4 343.5 345.8 343.0 346.5 341.0 346.5 340.5 345.8 340.0 345.6 339.5 346.5 313.0 346.5 312.5 345.6 312.0 345.6 311.5 346.5 264.5 346.5 264.0 346.1 263.5 345.3 263.0 346.0 262.5 346.5 258.0 346.5 257.5 344.5 257.0 345.6 256.5 346.5 238.0 346.5 237.5 345.6 237.0 345.6 236.5 346.5 219.0 346.5 218.5 345.9 218.0 345.6 217.5 346.2 217.0 346.5 202.5 346.5 202.0 345.1 201.5 345.2 201.0 344.7 200.5 345.5 200.0 346.5 192.5 346.5 192.0 345.9 191.5 344.7 191.0 346.5 148.5 346.5 148.0 346.2 147.5 345.1 147.0 345.3 146.5 346.5 131.0 346.5 130.5 346.2 130.0 345.0 129.5 345.7 129.0 346.5 84.0 346.5 83.5 346.3 83.0 344.3 82.5 346.3 82.0 346.5 77.5 346.5Z" fill="#E36F47" stroke="#E36F47" stroke-width="0.5" stroke-linejoin="round"/>
<path d="M77.5 345.9 77.9 345.3 78.3 345.0 78.7 345.2 79.1 344.9 79.5 345.3 79.9 345.6 80.3 345.9 80.7 346.3 81.1 346.1 81.5 345.8 81.9 345.5 82.3 345.3 82.7 342.3 83.1 333.4 83.5 331.3 83.9 340.2 84.3 344.8 84.7 344.1 85.1 343.8 85.5 331.1 85.9 316.5 86.3 330.0 86.7 342.0 87.1 334.4 87.5 326.8 87.9 332.8 88.3 317.2 88.7 293.4 89.1 294.8 89.5 318.7 89.9 315.3 90.3 309.6 90.7 321.0 91.1 332.4 91.5 341.8 91.9 343.4 92.3 342.6 92.7 343.1 93.1 344.1 93.5 344.1 93.9 342.2 94.3 342.4 94.7 342.8 95.1 343.7 95.5 343.2 95.9 342.7 96.3 343.6 96.7 342.5 97.1 340.1 97.5 333.2 97.9 326.3 98.3 321.1 98.7 328.0 99.1 334.9 99.5 341.8 99.9 342.2 100.3 343.5 100.7 342.4 101.1 341.6 101.5 333.3 101.9 323.5 102.3 313.7 102.7 317.8 103.1 327.5 103.5 337.3 103.9 342.9 104.3 342.1 104.7 343.9 105.1 342.7 105.5 342.8 105.9 343.2 106.3 341.9 106.7 343.3 107.1 342.0 107.5 341.4 107.9 321.3 108.3 301.1 108.6 286.0 108.7 291.0 109.1 300.7 109.5 277.7 109.5 277.7 109.9 300.7 110.3 280.5 110.3 280.5 110.7 302.5 111.1 287.2 111.2 281.9 111.5 298.0 111.9 319.6 112.3 334.9 112.7 338.8 113.1 342.5 113.5 336.6 113.9 329.8 114.3 323.0 114.7 316.2 115.1 321.1 115.5 327.9 115.9 334.7 116.3 341.5 116.7 342.5 117.1 342.5 117.5 343.7 117.9 342.4 118.3 340.0 118.7 337.1 119.1 334.3 119.5 333.7 119.9 336.6 120.3 339.5 120.7 342.3 121.1 342.7 121.5 342.4 121.9 341.1 122.3 342.7 122.7 343.3 123.1 343.1 123.5 343.8 123.9 343.7 124.3 343.7 124.7 341.7 125.1 343.3 125.5 344.6 125.9 345.1 126.3 344.4 126.7 345.5 127.1 345.3 127.5 345.1 127.9 343.5 128.3 337.9 128.7 332.4 129.1 326.8 129.5 328.8 129.9 334.4 130.3 339.9 130.7 340.3 131.1 337.5 131.5 340.2 131.9 343.0 132.3 344.8 132.7 345.0 133.1 344.8 133.5 345.1 133.9 344.8 134.3 344.5 134.7 344.6 135.1 344.5 135.5 343.9 135.9 343.9 136.3 338.3 136.7 331.1 137.1 327.4 137.5 334.6 137.9 341.8 138.3 334.5 138.7 325.5 139.1 335.4 139.5 344.3 139.9 344.5 140.3 339.5 140.7 334.4 141.1 334.6 141.5 339.7 141.9 344.9 142.3 344.8 142.7 344.4 143.1 344.2 143.5 343.6 143.9 344.0 144.3 344.8 144.7 344.5 145.1 344.0 145.5 343.5 145.9 343.7 146.3 343.8 146.7 344.5 147.1 343.9 147.5 344.5 147.9 344.9 148.3 343.5 148.7 343.6 149.1 342.9 149.5 343.4 149.9 344.4 150.3 344.9 150.7 343.5 151.1 337.0 151.5 330.5 151.9 324.0 152.3 317.5 152.7 321.9 153.1 328.4 153.5 334.9 153.9 341.4 154.3 344.6 154.7 344.5 155.1 343.5 155.5 343.4 155.9 344.0 156.3 344.9 156.7 343.1 157.1 343.2 157.5 344.4 157.9 345.0 158.3 344.0 158.7 344.6 159.1 344.2 159.5 344.2 159.9 344.4 160.3 343.2 160.7 344.2 161.1 344.8 161.5 343.9 161.9 343.3 162.3 344.6 162.7 344.0 163.1 344.3 163.5 343.7 163.9 342.8 164.3 341.0 164.7 340.1 165.1 342.0 165.5 343.7 165.9 343.8 166.3 343.2 166.7 343.3 167.1 340.7 167.5 338.2 167.9 334.3 168.3 338.0 168.7 338.0 169.1 341.7 169.5 343.2 169.9 344.0 170.3 343.3 170.7 342.5 171.1 338.7 171.5 334.8 171.9 334.2 172.3 338.0 172.7 336.0 173.1 330.3 173.5 325.7 173.9 322.9 174.3 330.9 174.7 338.9 175.1 344.9 175.5 344.7 175.9 344.8 176.3 344.8 176.7 344.0 177.1 344.9 177.5 343.9 177.9 343.5 178.3 343.4 178.7 345.0 179.1 344.7 179.5 344.0 179.9 342.3 180.3 340.6 180.7 340.2 181.1 337.0 181.5 333.8 181.9 331.3 182.3 334.5 182.7 337.6 183.1 334.3 183.5 328.0 183.9 321.6 184.3 315.3 184.7 321.3 185.1 327.6 185.5 334.0 185.9 340.3 186.3 343.7 186.7 343.5 187.1 344.8 187.5 343.5 187.9 344.6 188.3 343.9 188.7 344.2 189.1 344.6 189.5 344.1 189.9 345.2 190.3 343.5 190.7 340.8 191.1 338.0 191.5 335.6 191.9 338.3 192.3 340.3 192.7 340.5 193.1 344.6 193.5 345.0 193.9 344.1 194.3 345.1 194.7 343.6 195.1 344.4 195.5 344.8 195.9 345.2 196.3 343.8 196.7 343.8 197.1 345.0 197.5 342.8 197.9 336.5 198.3 330.3 198.7 333.8 199.1 340.1 199.5 345.0 199.9 343.9 200.3 338.8 200.7 333.0 201.1 327.1 201.5 326.5 201.9 332.4 202.3 338.2 202.7 344.0 203.1 344.5 203.5 344.2 203.9 344.2 204.3 344.3 204.7 344.0 205.1 344.7 205.5 343.1 205.9 337.4 206.3 331.9 206.7 332.0 207.1 324.6 207.5 329.2 207.9 336.6 208.3 331.1 208.7 323.5 209.1 324.4 209.5 330.0 209.9 332.1 210.3 335.7 210.7 338.2 211.1 332.7 211.5 333.9 211.9 339.5 212.3 343.8 212.7 345.0 213.1 345.2 213.5 345.2 213.9 345.1 214.3 345.1 214.7 344.8 215.1 344.8 215.5 343.6 215.9 342.2 216.3 339.7 216.7 340.6 217.1 343.1 217.5 337.6 217.9 332.5 218.3 340.6 218.7 344.0 219.1 344.4 219.5 344.0 219.9 344.5 220.3 338.8 220.7 336.6 221.1 342.3 221.5 344.3 221.9 343.8 222.3 343.8 222.7 342.9 223.1 340.9 223.5 338.8 223.9 339.3 224.3 341.3 224.7 343.3 225.1 345.2 225.5 344.9 225.9 344.6 226.3 341.4 226.7 336.8 227.1 332.2 227.5 328.6 227.9 333.2 228.3 337.8 228.7 342.4 229.1 342.6 229.5 340.2 229.9 337.8 230.3 339.2 230.7 341.6 231.1 343.8 231.5 344.2 231.9 344.2 232.3 344.3 232.7 344.8 233.1 344.0 233.5 344.9 233.9 344.8 234.3 344.7 234.7 344.4 235.1 343.9 235.5 344.6 235.9 344.2 236.3 344.5 236.7 344.5 237.1 343.6 237.5 344.2 237.9 345.2 238.3 343.8 238.7 344.4 239.1 343.6 239.5 345.0 239.9 343.6 240.3 341.8 240.7 339.2 241.1 342.2 241.5 343.6 241.9 343.9 242.3 344.4 242.7 344.6 243.1 344.6 243.5 344.4 243.9 344.9 244.3 344.9 244.7 344.1 245.1 344.0 245.5 343.7 245.9 345.0 246.3 344.7 246.7 344.9 247.1 344.2 247.5 344.7 247.9 344.3 248.3 339.2 248.7 335.8 249.1 340.9 249.5 345.0 249.9 344.4 250.3 343.9 250.7 343.8 251.1 344.7 251.5 345.1 251.9 344.0 252.3 342.2 252.7 338.8 253.1 335.4 253.5 333.8 253.9 329.4 254.3 327.4 254.7 331.7 255.1 336.0 255.5 340.3 255.9 344.6 256.3 344.0 256.7 344.3 257.1 344.6 257.5 344.3 257.9 345.0 258.3 344.7 258.7 344.7 259.1 344.0 259.5 341.8 259.9 339.7 260.3 340.1 260.7 342.2 261.1 344.3 261.5 343.9 261.9 342.6 262.3 341.2 262.7 339.9 263.1 341.1 263.5 342.5 263.9 343.9 264.3 343.9 264.7 341.1 265.1 338.0 265.5 334.9 265.9 335.3 266.3 338.4 266.7 341.5 267.1 343.2 267.5 343.8 267.9 345.1 268.3 344.2 268.7 344.9 269.1 341.4 269.5 335.2 269.9 328.9 270.3 333.6 270.7 339.8 271.1 344.4 271.5 323.6 271.9 300.7 272.3 277.7 272.3 277.7 272.7 300.7 273.1 309.8 273.5 291.5 273.5 291.5 273.9 309.8 274.3 328.1 274.7 344.2 275.1 343.3 275.5 336.9 275.9 329.1 276.3 321.3 276.7 313.5 277.1 312.8 277.5 320.6 277.9 328.4 278.3 318.9 278.7 315.6 279.1 326.6 279.5 337.5 279.9 344.7 280.3 343.7 280.7 343.2 281.1 339.6 281.5 336.1 281.9 336.4 282.3 339.9 282.7 343.5 283.1 342.5 283.5 336.1 283.9 329.8 284.3 335.8 284.7 337.1 285.1 335.4 285.5 327.3 285.9 319.3 286.3 311.2 286.7 318.3 287.1 326.4 287.5 334.4 287.9 342.5 288.3 344.3 288.7 343.8 289.1 344.8 289.5 343.6 289.9 345.2 290.3 344.6 290.7 345.0 291.1 343.6 291.5 345.2 291.9 344.8 292.3 344.6 292.7 345.1 293.1 342.1 293.5 331.1 293.9 326.0 294.3 337.0 294.7 337.9 295.1 338.2 295.5 340.2 295.9 342.1 296.3 343.8 296.7 344.8 297.1 343.8 297.5 344.1 297.9 345.0 298.3 345.2 298.7 345.2 299.1 343.6 299.5 344.8 299.9 345.1 300.3 344.1 300.7 342.8 301.1 341.4 301.5 340.0 301.9 341.3 302.3 342.7 302.7 344.0 303.1 344.5 303.5 344.5 303.9 344.0 304.3 344.9 304.7 345.1 305.1 343.8 305.5 344.6 305.9 344.3 306.3 344.6 306.7 344.0 307.1 339.8 307.5 326.1 307.9 325.2 308.3 338.8 308.7 344.3 309.1 344.5 309.5 343.9 309.9 344.6 310.3 343.9 310.7 343.7 311.1 344.3 311.5 343.9 311.9 343.8 312.3 344.9 312.7 340.7 313.1 334.5 313.5 328.3 313.9 322.4 314.3 328.6 314.7 334.8 315.1 323.7 315.5 301.0 315.9 278.3 315.9 278.3 316.3 301.0 316.7 323.7 317.1 344.6 317.5 345.1 317.9 345.1 318.3 343.9 318.7 343.7 319.1 345.0 319.5 344.7 319.9 344.2 320.3 345.1 320.7 345.2 321.1 343.8 321.5 344.8 321.9 343.8 322.3 344.5 322.7 344.4 323.1 344.4 323.5 344.5 323.9 344.9 324.3 344.3 324.7 344.6 325.1 344.0 325.5 344.8 325.9 345.0 326.3 343.9 326.7 344.5 327.1 341.8 327.5 339.1 327.9 336.4 328.3 339.0 328.7 341.7 329.1 344.4 329.5 344.3 329.9 344.5 330.3 345.3 330.7 343.8 331.1 344.9 331.5 344.7 331.9 343.9 332.3 344.2 332.7 345.1 333.1 344.3 333.5 345.3 333.9 344.2 334.3 344.4 334.7 344.3 335.1 344.4 335.5 335.1 335.9 325.1 336.3 315.2 336.7 318.5 337.1 328.5 337.5 338.5 337.9 337.5 338.3 337.2 338.7 336.0 339.1 334.6 339.5 340.4 339.9 343.9 340.3 344.7 340.7 341.0 341.1 337.3 341.5 334.9 341.9 338.6 342.3 342.3 342.7 345.0 343.1 344.8 343.5 345.1 343.9 344.8 344.3 340.6 344.7 334.5 345.1 333.0 345.5 339.1 345.9 345.2 346.3 344.9 346.7 345.3 347.1 339.9 347.5 328.6 347.9 331.4 348.3 339.7 348.7 335.7 349.1 331.7 349.5 327.7 349.9 330.3 350.3 334.3 350.7 338.2 351.1 339.7 351.5 339.8 351.9 341.2 352.3 342.6 352.7 344.0 353.1 344.5 353.5 344.9 353.9 344.2 354.3 342.6 354.7 339.7 355.1 340.0 355.5 336.4 355.9 332.8 356.3 333.7 356.7 337.4 357.1 341.0 357.5 344.4 357.9 344.9 358.3 345.3 358.7 344.7 359.1 345.1 359.5 345.4 359.9 345.0 360.3 344.5 360.7 343.1 361.1 340.4 361.5 337.7 361.9 338.2 362.3 340.9 362.7 343.6 363.1 344.7 363.5 345.1 363.9 345.4 364.3 344.8 364.7 344.6 365.1 345.2 365.5 345.2 365.9 345.3 366.3 344.8 366.7 345.0 367.1 345.3 367.5 344.5 367.9 345.6 368.3 344.5 368.7 344.5 369.1 345.4 369.5 345.5 369.9 344.7 370.3 342.8 370.7 339.8 371.1 336.7 371.5 334.3 371.9 337.3 372.3 340.3 372.7 343.4 373.1 344.9 373.5 345.2 373.9 344.0 374.3 344.5 374.7 345.2 375.1 345.3 375.5 344.8 375.9 345.0 376.3 344.8 376.7 345.0 377.1 344.0 377.5 340.8 377.9 334.2 378.3 327.6 378.7 324.6 379.1 324.4 379.5 335.3 379.9 342.6 380.3 342.4 380.7 342.2 381.1 343.5 381.5 344.0 381.9 344.3 382.3 344.9 382.7 345.3 383.1 343.9 383.5 345.1 383.9 344.2 384.3 344.7 384.7 344.9 385.1 344.8 385.5 345.3 385.9 343.1 386.3 340.9 386.7 342.5 387.1 344.4 387.5 332.7 387.9 320.9 388.3 317.4 388.7 329.3 389.1 341.2 389.5 344.7 389.9 343.9 390.3 345.3 390.7 344.8 391.1 345.2 391.5 344.4 391.9 342.9 392.3 341.4 392.7 339.8 393.1 340.0 393.5 341.5 393.9 336.8 394.3 327.3 394.7 317.7 395.1 318.3 395.5 327.8 395.9 331.5 396.3 335.0 396.7 338.5 397.1 342.0 397.5 343.9 397.9 344.0 398.3 345.0 398.7 344.8 399.1 344.6 399.5 344.2 399.9 344.6 400.3 345.1 400.7 345.3 401.1 344.9 401.5 342.8 401.9 331.2 402.3 331.8 402.7 327.2 403.1 323.5 403.5 329.1 403.9 334.8 404.3 340.5 404.7 341.8 405.1 340.2 405.5 342.2 405.9 344.3 406.3 340.5 406.7 333.1 407.1 325.6 407.5 318.1 407.9 314.5 408.3 322.0 408.7 329.5 409.1 337.0 409.5 340.0 409.9 343.3 410.3 341.7 410.7 338.5 411.1 335.8 411.5 338.9 411.9 342.1 412.3 344.2 412.7 343.8 413.1 343.9 413.5 340.2 413.9 336.4 414.3 332.7 414.7 328.9 415.1 331.3 415.5 335.1 415.9 338.8 416.3 341.5 416.7 343.1 417.1 344.6 417.5 344.1 417.9 344.8 418.3 344.0 418.7 345.0 419.1 344.3 419.5 344.0 419.9 341.8 420.3 339.8 420.7 334.0 421.1 328.2 421.5 325.2 421.9 331.1 422.3 336.9 422.7 342.7 423.1 339.6 423.5 340.8 423.9 341.2 424.3 337.8 424.7 334.4 425.1 332.1 425.5 332.7 425.9 326.3 426.3 328.5 426.7 333.9 427.1 339.9 427.5 344.2 427.9 344.1 428.3 344.2 428.7 344.1 429.1 344.0 429.5 344.1 429.9 344.9 430.3 344.4 430.7 344.7 431.1 344.8 431.5 341.8 431.9 338.9 432.3 341.2 432.7 344.2 433.1 345.2 433.5 344.6 433.9 343.0 434.3 340.3 434.7 337.6 435.1 335.0 435.5 337.7 435.9 340.4 436.3 343.1 436.7 343.7 437.1 343.8 437.5 344.5 437.9 344.2 438.3 344.7 438.7 344.2 439.1 343.7 439.5 344.7 439.9 345.2 440.3 343.7 440.7 345.2 441.1 344.1 441.5 344.3 441.9 344.6 442.3 343.7 442.7 345.1 443.1 344.9 443.5 343.9 443.9 345.2 444.3 344.1 444.7 342.7 445.1 341.4 445.5 340.4 445.9 341.7 446.3 344.5 446.7 341.4 447.1 338.1 447.5 334.8 447.9 331.5 448.3 332.4 448.7 335.7 449.1 338.9 449.5 339.6 449.9 334.0 450.3 328.5 450.7 322.9 451.1 323.8 451.5 329.4 451.9 334.9 452.3 340.5 452.7 343.6 453.1 344.8 453.5 344.4 453.9 344.3 454.3 345.0 454.7 343.5 455.1 344.9 455.5 344.4 455.9 345.0 456.3 344.7 456.7 343.7 457.1 344.0 457.5 344.5 457.9 343.3 458.3 341.9 458.7 340.6 459.1 340.7 459.5 342.1 459.9 336.3 460.3 330.2 460.7 330.6 461.1 334.0 461.5 338.9 461.9 331.6 462.3 324.0 462.7 316.4 463.1 321.2 463.5 328.8 463.9 336.4 464.3 344.0 464.7 344.6 465.1 342.7 465.5 342.4 465.9 344.2 466.3 343.7 466.7 343.3 467.1 344.9 467.5 344.0 467.9 336.0 468.3 325.0 468.7 314.0 469.1 312.0 469.5 323.0 469.9 334.0 470.3 339.9 470.7 336.8 471.1 338.8 471.5 342.0 471.9 343.4 472.3 344.2 472.7 344.2 473.1 343.7 473.5 343.1 473.9 344.0 474.3 344.4 474.7 344.1 475.1 343.9 475.5 343.7 475.9 343.1 476.3 343.8 476.7 343.3 477.1 344.0 477.5 344.1 477.9 343.1 478.3 344.4 478.7 344.3 479.1 343.8 479.5 344.0 479.9 343.0 480.3 341.9 480.7 338.1 481.1 333.8 481.5 335.5 481.9 339.9 482.3 343.5 482.7 343.1 483.1 344.7 483.5 344.3 483.9 343.5 484.3 343.6 484.7 340.3 485.1 336.6 485.5 340.7 485.9 340.3 486.3 335.2 486.7 326.0 487.1 320.1 487.5 323.1 487.9 312.4 488.3 304.0 488.7 314.7 489.1 325.3 489.5 336.0 489.9 338.5 490.3 330.5 490.7 331.0 491.1 339.0 491.5 340.3 491.9 329.0 492.3 317.6 492.7 306.4 493.1 317.8 493.5 319.8 493.9 319.1 494.3 315.7 494.7 333.7 495.1 341.7 495.5 340.4 495.9 338.8 496.3 339.8 496.7 341.5 497.1 343.1 497.5 342.8 497.9 343.1 498.3 343.5 498.7 344.1 499.1 338.4 499.5 322.0 499.9 305.7 500.3 317.7 500.7 334.1 501.1 343.6 501.5 343.3 501.9 343.0 502.3 343.7 502.7 344.2 503.1 343.2 503.5 344.5 503.9 344.4 504.3 343.9 504.7 343.5 505.1 344.7 505.5 344.5 505.9 343.2 506.3 343.8 506.7 343.8 507.1 343.7 507.5 344.4 507.9 341.5 508.3 326.7 508.7 311.9 509.1 297.0 509.5 308.7 509.9 323.5 510.3 338.3 510.7 343.7 511.1 343.1 511.5 343.4 511.9 343.9 512.3 334.7 512.7 321.0 513.1 305.2 513.5 284.6 513.5 284.6 513.9 305.2 514.3 325.9 514.7 344.2 515.1 343.5 515.5 338.1 515.9 332.0 516.3 326.2 516.7 324.2 517.1 313.9 517.5 303.5 517.9 313.4 518.3 323.7 518.7 334.0 519.1 344.4 519.5 343.9 519.9 344.2 520.3 343.0 520.7 342.9 521.1 343.1 521.5 343.3 521.9 343.6 522.3 344.7 522.7 343.4 523.1 344.0 523.5 343.7 523.9 339.9 524.3 336.1 524.7 332.3 525.1 332.0 525.5 335.8 525.9 339.6 526.3 343.4 526.7 344.5 527.1 344.4 527.5 343.6 527.9 343.3 528.3 330.4 528.7 317.6 529.0 308.0 529.1 309.4 529.4 297.0 529.5 301.1 529.9 317.6 530.3 334.1 530.7 344.6 531.1 344.8 531.5 344.2 531.9 344.5 532.3 342.8 532.7 342.7 533.1 341.1 533.5 335.5 533.9 332.5 534.3 328.6 534.7 333.5 535.1 338.3 535.5 338.3 535.9 338.4 536.3 337.6 536.7 332.2 537.1 326.8 537.5 321.4 537.9 326.1 538.3 330.9 538.7 332.3 539.1 336.9 539.5 341.0 539.9 337.8 540.3 334.5 540.7 334.8 541.1 338.1 541.5 327.5 541.9 316.7 542.3 306.5 542.7 317.3 543.1 328.1 543.5 338.9 543.9 343.5 544.3 343.8 544.7 344.6 545.1 344.6 545.5 343.1 545.9 344.3 546.3 343.9 546.7 344.0 547.1 344.1 547.5 344.0 547.9 344.3 548.3 343.0 548.7 343.8 549.1 344.3 549.5 344.5 549.9 343.2 550.3 343.3 550.7 343.2 551.1 343.7 551.5 344.2 551.9 344.5 552.3 344.1 552.7 344.7 553.1 344.4 553.5 344.2 553.9 344.7 554.3 344.6 554.7 344.7 555.1 344.1 555.5 343.0 555.9 343.0 556.3 344.7 556.7 343.7 557.1 344.9 557.5 343.6 557.9 343.7 558.3 343.9 558.7 344.4 559.1 344.0 559.5 344.9 559.9 343.6 560.3 343.4 560.7 344.8 561.1 342.9 561.5 344.6 561.9 343.1 562.3 343.0 562.7 344.1 563.1 343.2 563.5 343.8 563.9 344.4 564.3 343.6 564.7 344.2 565.1 344.7 565.5 343.4 565.9 344.6 566.3 343.1 566.7 344.6 567.1 344.3 567.5 343.4 567.9 343.3 568.3 344.2 568.7 343.7 569.1 340.6 569.5 336.2 569.9 331.7 570.3 329.3 570.7 333.8 571.1 330.0 571.5 323.3 571.9 316.6 572.3 321.0 572.7 327.7 573.1 334.4 573.5 341.2 573.6 342.9 573.6 346.5 570.0 346.5 569.5 345.8 569.0 345.0 568.5 346.5 525.5 346.5 525.0 345.2 524.5 344.7 524.0 346.5 515.0 346.5 514.5 345.4 514.0 346.5 499.5 346.5 499.0 346.4 498.5 344.9 498.0 344.9 497.5 346.1 497.0 346.5 486.0 346.5 485.5 346.2 485.0 345.2 484.5 346.5 481.5 346.5 481.0 345.9 480.5 344.7 480.0 345.2 479.5 346.5 472.5 346.5 472.0 346.1 471.5 344.8 471.0 345.9 470.5 346.5 425.0 346.5 424.5 344.6 424.0 346.2 423.5 346.5 411.0 346.5 410.5 345.8 410.0 344.5 409.5 345.1 409.0 346.5 369.0 346.5 368.5 346.4 368.0 345.3 367.5 345.8 367.0 346.5 359.5 346.5 359.0 345.1 358.5 345.0 358.0 346.4 357.5 346.5 351.0 346.5 350.5 344.3 350.0 345.8 349.5 346.5 310.5 346.5 310.0 345.3 309.5 344.5 309.0 345.8 308.5 346.5 308.0 346.5 307.5 344.7 307.0 345.4 306.5 346.5 287.0 346.5 286.5 345.5 286.0 346.5 285.0 346.5 284.5 346.1 284.0 344.5 283.5 344.5 283.0 346.5 282.5 346.5 276.5 346.5 276.0 345.0 275.5 346.4 275.0 346.5 233.5 346.5 233.0 345.3 232.5 345.7 232.0 346.5 213.5 346.5 213.0 345.5 212.5 345.5 212.0 346.5 211.5 346.5 206.0 346.5 205.5 346.1 205.0 344.5 204.5 346.5 198.0 346.5 197.5 345.6 197.0 345.2 196.5 345.7 196.0 346.5 139.0 346.5 138.5 345.7 138.0 344.8 137.5 346.5 133.0 346.5 132.5 346.4 132.0 345.0 131.5 346.5 121.5 346.5 121.0 346.2 120.5 345.6 120.0 346.5 77.5 346.5Z" fill="#3EA44E" stroke="#3EA44E" stroke-width="0.5" stroke-linejoin="round"/>
<path d="M77.5 346.4 77.9 346.3 78.3 346.3 78.7 346.3 79.1 346.3 79.5 346.4 79.9 346.2 80.3 346.3 80.7 346.3 81.1 346.2 81.5 345.6 81.9 345.0 82.3 345.5 82.7 346.0 83.1 345.9 83.5 344.9 83.9 344.5 84.3 344.1 84.7 343.6 85.1 344.2 85.5 343.4 85.9 341.9 86.3 343.1 86.7 341.7 87.1 342.1 87.5 343.0 87.9 333.0 88.3 318.6 88.7 304.2 89.1 289.8 89.5 288.5 89.9 302.9 90.3 317.3 90.7 331.7 91.1 317.1 91.5 302.2 91.9 298.8 92.3 313.6 92.7 320.3 93.1 318.9 93.5 313.5 93.9 294.4 94.3 295.3 94.7 314.4 95.1 333.5 95.5 341.6 95.9 342.4 96.3 341.4 96.7 344.1 97.1 341.0 97.5 331.6 97.9 322.3 98.3 313.0 98.7 320.9 99.1 330.3 99.5 339.6 99.9 343.4 100.3 342.4 100.7 344.1 101.1 342.4 101.5 342.2 101.9 342.5 102.3 342.9 102.7 342.1 103.1 343.6 103.5 342.3 103.9 343.4 104.3 344.1 104.7 343.2 105.1 342.1 105.5 341.0 105.9 340.4 106.3 342.3 106.7 342.9 107.1 344.1 107.5 327.9 107.9 307.6 108.3 317.6 108.7 337.9 109.1 342.3 109.5 341.8 109.9 341.9 110.3 341.6 110.7 344.0 111.1 342.4 111.5 343.5 111.9 344.2 112.3 342.9 112.7 341.6 113.1 343.4 113.5 343.6 113.9 341.5 114.3 342.4 114.7 343.9 115.1 344.3 115.5 344.1 115.9 344.1 116.3 341.9 116.7 342.4 117.1 343.9 117.5 343.2 117.9 343.1 118.3 337.7 118.7 326.5 119.1 315.3 119.5 304.1 119.9 292.9 120.3 300.9 120.7 312.1 121.1 323.2 121.5 334.4 121.9 343.1 122.3 344.2 122.7 343.8 123.1 344.7 123.5 343.3 123.9 344.7 124.3 343.8 124.7 345.0 125.1 344.6 125.5 343.3 125.9 341.7 126.3 340.1 126.7 341.5 127.1 343.1 127.5 344.7 127.9 344.2 128.3 345.0 128.7 345.0 129.1 344.7 129.5 345.1 129.9 344.3 130.3 345.4 130.7 344.4 131.1 344.1 131.5 344.9 131.9 344.3 132.3 344.3 132.7 344.2 133.1 343.5 133.5 339.0 133.9 338.1 134.3 342.6 134.7 345.1 135.1 344.3 135.5 344.5 135.9 345.2 136.3 345.1 136.7 343.7 137.1 342.1 137.5 340.5 137.9 338.9 138.3 339.9 138.7 341.5 139.1 343.1 139.5 343.6 139.9 343.4 140.3 342.0 140.7 340.7 141.1 342.1 141.5 343.4 141.9 343.9 142.3 343.8 142.7 344.1 143.1 340.7 143.5 329.9 143.9 319.9 144.3 330.8 144.7 341.7 145.1 344.4 145.5 343.2 145.9 341.6 146.3 339.0 146.7 336.4 147.1 334.3 147.5 336.9 147.9 339.5 148.3 342.1 148.7 343.9 149.1 343.1 149.5 343.5 149.9 343.8 150.3 344.4 150.7 344.6 151.1 344.2 151.5 344.3 151.9 343.5 152.3 342.9 152.7 343.2 153.1 344.4 153.5 344.3 153.9 343.7 154.3 343.2 154.7 344.3 155.1 344.4 155.5 344.0 155.9 343.4 156.3 341.5 156.7 339.3 157.1 337.2 157.5 336.3 157.9 338.5 158.3 340.7 158.7 342.8 159.1 343.9 159.5 344.0 159.9 337.3 160.3 329.3 160.7 321.3 161.1 313.2 161.5 315.8 161.9 323.8 162.3 318.3 162.7 329.8 163.1 339.3 163.5 340.0 163.9 343.9 164.3 343.7 164.7 344.8 165.1 343.1 165.5 344.0 165.9 343.9 166.3 343.7 166.7 343.8 167.1 343.5 167.5 344.6 167.9 344.9 168.3 344.2 168.7 343.6 169.1 343.6 169.5 344.3 169.9 343.6 170.3 343.6 170.7 341.5 171.1 329.6 171.5 317.2 171.9 304.8 172.3 315.7 172.7 317.3 173.1 314.8 173.5 304.9 173.9 316.0 174.3 327.1 174.7 338.2 175.1 343.6 175.5 343.9 175.9 345.0 176.3 344.2 176.7 343.7 177.1 344.6 177.5 344.7 177.9 343.3 178.3 344.7 178.7 344.0 179.1 344.3 179.5 343.5 179.9 344.0 180.3 342.4 180.7 340.4 181.1 334.2 181.5 336.7 181.9 329.7 182.3 322.8 182.7 327.0 183.1 333.9 183.5 340.9 183.9 344.1 184.3 343.9 184.7 339.1 185.1 333.7 185.5 328.4 185.9 331.4 186.3 329.9 186.7 329.1 187.1 334.4 187.5 336.1 187.9 328.2 188.3 326.5 188.7 334.5 189.1 342.4 189.5 343.6 189.9 344.8 190.3 344.0 190.7 344.9 191.1 343.1 191.5 341.2 191.9 339.4 192.3 339.1 192.7 333.7 193.1 332.7 193.5 339.6 193.9 345.0 194.3 342.9 194.7 330.3 195.1 328.1 195.5 340.7 195.9 343.1 196.3 340.3 196.7 337.5 197.1 338.6 197.5 341.4 197.9 343.9 198.3 344.0 198.7 342.5 199.1 340.0 199.5 337.4 199.9 339.3 200.3 337.8 200.7 334.7 201.1 331.6 201.5 333.8 201.9 336.9 202.3 340.0 202.7 343.0 203.1 344.8 203.5 340.9 203.9 329.6 204.3 310.4 204.7 291.1 204.8 288.7 205.1 305.6 205.5 324.8 205.9 344.1 206.3 344.4 206.7 344.5 207.1 343.7 207.5 343.9 207.9 344.2 208.3 344.4 208.7 345.1 209.1 344.2 209.5 339.3 209.9 333.7 210.3 328.0 210.7 328.4 211.1 334.0 211.5 322.0 211.9 327.7 212.3 326.6 212.7 333.4 213.1 340.1 213.5 343.7 213.9 344.1 214.3 344.1 214.7 336.2 215.1 322.4 215.5 308.7 215.6 305.2 215.9 315.5 216.3 329.3 216.7 342.9 217.1 341.4 217.5 341.3 217.9 342.8 218.3 344.3 218.7 344.7 219.1 343.8 219.5 344.1 219.9 344.4 220.3 344.7 220.7 344.3 221.1 344.2 221.5 344.1 221.9 344.2 222.3 341.9 222.7 339.6 223.1 333.6 223.5 318.7 223.9 318.4 224.3 333.3 224.7 333.1 225.1 325.5 225.5 332.5 225.9 340.1 226.3 344.2 226.7 343.4 227.1 341.9 227.5 340.4 227.9 339.8 228.3 341.3 228.7 342.7 229.1 344.2 229.5 344.7 229.9 344.6 230.3 344.4 230.7 343.6 231.1 343.0 231.5 343.8 231.9 344.6 232.3 344.2 232.7 344.8 233.1 344.2 233.5 344.4 233.9 344.2 234.3 343.8 234.7 344.9 235.1 344.0 235.5 345.0 235.9 344.1 236.3 340.9 236.7 334.0 237.1 327.2 237.5 320.3 237.9 313.5 238.3 317.9 238.7 324.7 239.1 331.6 239.5 338.4 239.9 343.9 240.3 344.5 240.7 345.1 241.1 345.0 241.5 344.4 241.9 345.1 242.3 344.1 242.7 344.1 243.1 344.3 243.5 343.9 243.9 344.7 244.3 343.9 244.7 345.1 245.1 325.0 245.5 303.6 245.9 282.1 245.9 282.1 246.3 289.9 246.5 278.6 246.7 289.9 247.1 290.3 247.3 279.1 247.5 290.3 247.7 287.4 247.9 297.2 248.3 302.3 248.6 287.6 248.7 292.5 249.1 312.2 249.5 292.8 249.6 287.9 249.9 295.3 249.9 295.3 250.3 312.4 250.7 295.6 250.7 295.6 251.1 312.6 251.5 295.9 251.5 295.9 251.9 313.5 251.9 312.8 252.3 324.5 252.7 318.1 253.1 301.9 253.2 297.8 253.5 310.0 253.8 299.7 253.9 303.6 254.2 319.0 254.3 319.2 254.7 330.4 255.1 339.6 255.5 335.9 255.9 324.4 256.3 313.6 256.7 325.2 257.1 336.7 257.5 344.1 257.9 344.1 258.3 344.7 258.7 344.8 259.1 344.7 259.5 345.2 259.9 345.1 260.3 344.4 260.7 344.3 261.1 344.3 261.5 344.5 261.9 345.1 262.3 344.8 262.7 343.7 263.1 341.7 263.5 339.9 263.9 339.7 264.3 327.5 264.7 315.3 265.1 316.0 265.5 298.6 265.6 294.2 265.9 307.3 266.3 324.7 266.7 342.1 267.1 345.3 267.5 341.5 267.9 337.4 268.3 339.1 268.7 343.2 269.1 344.5 269.5 341.5 269.9 337.3 270.3 338.1 270.7 342.3 271.1 345.0 271.5 344.2 271.9 342.7 272.3 339.6 272.7 337.8 273.1 335.9 273.5 333.8 273.9 338.2 274.3 342.5 274.7 344.3 275.1 344.0 275.5 342.8 275.9 341.4 276.3 342.9 276.7 344.0 277.1 339.6 277.5 331.0 277.9 337.1 278.3 333.0 278.7 339.6 279.1 344.2 279.5 344.4 279.9 344.4 280.3 340.2 280.7 335.2 281.1 330.1 281.5 331.4 281.9 336.5 282.3 341.5 282.7 345.1 283.1 344.8 283.5 344.6 283.9 338.1 284.3 329.1 284.7 334.4 285.1 343.3 285.5 344.8 285.9 345.0 286.3 345.3 286.7 344.3 287.1 343.6 287.5 342.1 287.9 340.5 288.3 337.6 288.7 332.9 289.1 328.2 289.5 332.2 289.9 336.9 290.3 341.6 290.7 340.7 291.1 340.3 291.5 342.1 291.9 343.9 292.3 345.0 292.7 344.7 293.1 345.2 293.5 342.8 293.9 330.3 294.3 317.7 294.7 321.3 295.1 333.8 295.5 343.5 295.9 340.1 296.3 332.7 296.7 325.2 297.1 317.8 297.5 316.1 297.9 323.6 298.3 331.0 298.7 338.5 299.1 334.9 299.5 329.7 299.9 334.2 300.3 339.4 300.7 344.6 301.1 341.3 301.5 336.6 301.9 335.4 302.3 340.1 302.7 344.8 303.1 344.9 303.5 345.0 303.9 343.9 304.3 345.2 304.7 344.2 305.1 344.6 305.5 344.3 305.9 345.2 306.3 344.7 306.7 344.6 307.1 344.9 307.5 344.4 307.9 345.2 308.3 343.2 308.7 340.1 309.1 337.0 309.5 333.9 309.9 335.7 310.3 338.8 310.7 339.9 311.1 335.6 311.5 334.7 311.9 339.0 312.3 340.4 312.7 341.7 313.1 341.9 313.5 338.5 313.9 337.9 314.3 341.4 314.7 344.0 315.1 344.8 315.5 344.8 315.9 344.3 316.3 344.0 316.7 342.8 317.1 339.9 317.5 336.9 317.9 335.7 318.3 338.7 318.7 341.6 319.1 344.0 319.5 344.5 319.9 345.0 320.3 343.9 320.7 344.7 321.1 345.2 321.5 344.2 321.9 344.3 322.3 344.4 322.7 344.8 323.1 345.0 323.5 341.6 323.9 333.8 324.3 325.9 324.7 318.1 325.1 316.2 325.5 324.0 325.9 324.3 326.3 330.7 326.7 338.8 327.1 344.9 327.5 344.9 327.9 344.6 328.3 345.3 328.7 345.0 329.1 344.0 329.5 345.3 329.9 344.9 330.3 344.6 330.7 345.2 331.1 344.9 331.5 344.4 331.9 344.9 332.3 344.5 332.7 344.0 333.1 345.2 333.5 344.4 333.9 345.3 334.3 344.8 334.7 344.3 335.1 344.0 335.5 344.7 335.9 344.4 336.3 344.7 336.7 345.2 337.1 345.2 337.5 344.5 337.9 344.1 338.3 345.0 338.7 344.3 339.1 344.4 339.5 342.5 339.9 326.4 340.3 310.4 340.6 298.4 340.7 302.4 341.1 318.4 341.5 334.5 341.9 345.3 342.3 345.3 342.7 344.0 343.1 344.6 343.5 344.0 343.9 343.9 344.3 345.1 344.7 344.8 345.1 343.9 345.5 345.4 345.9 343.9 346.3 343.9 346.7 342.0 347.1 337.8 347.5 337.6 347.9 341.8 348.3 344.9 348.7 345.3 349.1 344.7 349.5 344.4 349.9 341.0 350.3 336.9 350.7 335.4 351.1 339.5 351.5 343.7 351.9 345.2 352.3 344.3 352.7 344.4 353.1 344.5 353.5 339.6 353.9 325.9 354.3 312.1 354.5 305.2 354.7 312.1 355.1 307.5 355.3 299.7 355.5 307.5 355.9 312.9 356.3 296.2 356.3 296.2 356.7 312.9 357.1 306.2 357.2 302.5 357.5 313.5 357.9 328.1 358.3 342.8 358.7 344.2 359.1 345.3 359.5 345.4 359.9 345.1 360.3 345.5 360.7 342.9 361.1 335.7 361.5 328.6 361.9 330.6 362.3 337.8 362.7 344.5 363.1 344.6 363.5 345.4 363.9 345.3 364.3 345.5 364.7 344.9 365.1 344.0 365.5 331.5 365.9 326.2 366.3 338.8 366.7 345.5 367.1 344.5 367.5 345.3 367.9 343.8 368.3 342.0 368.7 344.8 369.1 345.5 369.5 341.4 369.9 336.7 370.3 332.1 370.7 331.1 371.1 335.8 371.5 340.4 371.9 345.1 372.3 344.5 372.7 342.0 373.1 338.6 373.5 335.2 373.9 331.8 374.3 333.6 374.7 337.0 375.1 340.4 375.5 343.8 375.9 344.7 376.3 344.4 376.7 344.8 377.1 343.1 377.5 341.3 377.9 339.5 378.3 337.2 378.7 332.7 379.1 329.2 379.5 332.3 379.9 338.3 380.3 342.8 380.7 345.3 381.1 342.8 381.5 339.8 381.9 337.2 382.3 340.2 382.7 343.2 383.1 344.8 383.5 344.2 383.9 344.7 384.3 342.8 384.7 337.7 385.1 332.6 385.5 328.1 385.9 333.1 386.3 338.2 386.7 339.9 387.1 335.5 387.5 335.9 387.9 340.3 388.3 344.8 388.7 344.2 389.1 345.1 389.5 345.3 389.9 344.6 390.3 343.9 390.7 342.5 391.1 341.3 391.5 337.2 391.9 333.1 392.3 337.2 392.7 341.3 393.1 344.4 393.5 344.7 393.9 344.0 394.3 343.3 394.7 343.4 395.1 344.1 395.5 344.6 395.9 344.0 396.3 343.5 396.7 344.2 397.1 344.2 397.5 344.0 397.9 344.0 398.3 345.1 398.7 344.9 399.1 345.0 399.5 344.2 399.9 344.7 400.3 344.0 400.7 344.5 401.1 345.3 401.5 345.0 401.9 344.8 402.3 345.2 402.7 344.5 403.1 345.3 403.5 345.0 403.9 345.4 404.3 345.2 404.7 344.3 405.1 344.6 405.5 344.0 405.9 345.2 406.3 345.1 406.7 345.3 407.1 345.1 407.5 344.9 407.9 344.7 408.3 345.0 408.7 345.1 409.1 343.2 409.5 339.7 409.9 336.1 410.3 332.5 410.7 333.0 411.1 336.6 411.5 340.2 411.9 343.7 412.3 344.8 412.7 344.5 413.1 345.1 413.5 344.8 413.9 345.2 414.3 344.1 414.7 344.4 415.1 341.8 415.5 334.7 415.9 327.5 416.3 320.4 416.7 313.2 417.1 320.4 417.5 327.5 417.9 334.7 418.3 338.6 418.7 340.3 419.1 341.9 419.5 343.6 419.9 344.7 420.3 343.9 420.7 344.2 421.1 344.5 421.5 340.6 421.9 330.8 422.3 321.0 422.7 315.1 423.1 324.9 423.5 334.7 423.9 344.0 424.3 344.9 424.7 344.1 425.1 344.1 425.5 344.7 425.9 345.4 426.3 345.2 426.7 344.8 427.1 344.3 427.5 344.7 427.9 344.0 428.3 344.0 428.7 344.9 429.1 343.9 429.5 344.6 429.9 345.3 430.3 345.3 430.7 344.8 431.1 344.8 431.5 345.1 431.9 341.7 432.3 341.5 432.7 344.2 433.1 345.0 433.5 330.4 433.9 308.9 434.3 287.5 434.4 282.1 434.7 298.2 435.1 319.7 435.5 341.1 435.9 344.4 436.3 343.7 436.7 341.6 437.1 340.1 437.5 342.2 437.9 344.3 438.3 344.1 438.7 344.5 439.1 344.1 439.5 340.5 439.9 336.2 440.3 335.5 440.7 339.8 441.1 342.0 441.5 343.8 441.9 344.9 442.3 344.3 442.7 345.0 443.1 344.4 443.5 344.3 443.9 345.4 444.3 344.3 444.7 344.1 445.1 344.0 445.5 343.7 445.9 344.0 446.3 345.2 446.7 344.9 447.1 341.5 447.5 337.9 447.9 334.4 448.3 333.7 448.7 337.3 449.1 340.9 449.5 344.1 449.9 344.5 450.3 344.8 450.7 345.4 451.1 345.0 451.5 344.4 451.9 344.9 452.3 344.5 452.7 345.3 453.1 344.5 453.5 344.6 453.9 341.2 454.3 336.0 454.7 330.7 455.1 325.4 455.5 321.3 455.9 326.6 456.3 331.8 456.7 337.1 457.1 342.4 457.5 342.9 457.9 340.7 458.3 338.6 458.7 336.5 459.1 338.0 459.5 329.9 459.9 321.7 460.3 314.1 460.7 322.2 461.1 330.4 461.5 338.6 461.9 344.3 462.3 345.0 462.7 344.0 463.1 344.1 463.5 344.1 463.9 342.5 464.3 339.2 464.7 335.9 465.1 332.6 465.5 332.7 465.9 336.0 466.3 339.4 466.7 342.7 467.1 344.6 467.5 342.5 467.9 335.1 468.3 327.7 468.7 320.8 469.1 328.2 469.5 334.6 469.9 340.1 470.3 343.5 470.7 344.6 471.1 344.0 471.5 343.8 471.9 343.8 472.3 340.6 472.7 338.7 473.1 336.7 473.5 335.8 473.9 338.1 474.3 340.5 474.7 342.8 475.1 343.9 475.5 343.4 475.9 344.2 476.3 343.5 476.7 345.0 477.1 343.9 477.5 344.9 477.9 344.5 478.3 344.1 478.7 343.9 479.1 343.9 479.5 344.8 479.9 344.9 480.3 344.8 480.7 344.0 481.1 344.8 481.5 343.4 481.9 343.8 482.3 344.5 482.7 343.9 483.1 344.9 483.5 343.9 483.9 343.5 484.3 341.8 484.7 341.5 485.1 343.2 485.5 343.7 485.9 344.6 486.3 344.9 486.7 344.8 487.1 343.4 487.5 337.1 487.9 326.6 488.3 316.2 488.7 308.8 489.1 318.7 489.5 311.6 489.9 319.2 490.3 326.8 490.7 334.3 491.1 341.9 491.5 335.0 491.9 331.0 492.3 338.6 492.7 333.2 493.1 327.1 493.5 321.0 493.9 307.1 494.3 327.7 494.7 337.8 495.1 320.6 495.5 307.8 495.9 324.9 496.3 333.5 496.7 314.0 497.1 316.0 497.5 335.4 497.9 344.6 498.3 344.5 498.7 344.0 499.1 343.3 499.5 343.9 499.9 343.1 500.3 343.4 500.7 343.8 501.1 343.1 501.5 344.2 501.9 343.7 502.3 343.6 502.7 342.3 503.1 337.1 503.5 328.5 503.9 319.9 504.3 321.3 504.7 326.1 505.1 326.0 505.5 331.1 505.9 336.1 506.3 339.7 506.7 337.5 507.1 335.7 507.5 338.0 507.9 340.3 508.3 342.5 508.7 340.9 509.1 333.1 509.5 325.4 509.9 317.6 510.3 315.0 510.7 322.8 511.1 330.5 511.5 338.3 511.9 344.6 512.3 344.9 512.7 343.7 513.1 343.5 513.5 339.7 513.9 325.5 514.3 323.3 514.7 336.8 515.1 325.0 515.5 303.6 515.9 282.1 515.9 282.1 516.3 303.6 516.7 325.0 517.1 336.6 517.5 339.1 517.9 338.4 518.3 339.5 518.7 344.7 519.1 344.8 519.5 344.3 519.9 343.2 520.3 343.5 520.7 342.9 521.1 344.0 521.5 343.2 521.9 340.9 522.3 339.2 522.7 341.4 523.1 343.7 523.5 341.9 523.9 339.4 524.3 336.9 524.7 334.8 525.1 337.3 525.5 339.8 525.9 342.3 526.3 344.7 526.7 343.5 527.1 343.1 527.5 344.5 527.9 343.8 528.3 344.9 528.7 343.6 529.1 344.7 529.5 344.2 529.9 335.0 530.3 325.7 530.7 316.4 531.1 307.2 531.5 312.6 531.9 321.9 532.3 331.1 532.7 340.4 533.1 343.0 533.5 340.9 533.9 333.7 534.3 329.4 534.7 336.6 535.1 343.8 535.5 343.3 535.9 343.9 536.3 344.9 536.7 342.8 537.1 340.6 537.5 338.4 537.9 337.8 538.3 340.0 538.7 342.2 539.1 343.8 539.5 344.2 539.9 344.3 540.3 344.7 540.7 343.2 541.1 343.9 541.5 343.2 541.9 343.8 542.3 344.8 542.7 344.9 543.1 344.6 543.5 341.0 543.9 337.0 544.3 333.0 544.7 330.8 545.1 334.7 545.5 338.7 545.9 341.6 546.3 343.3 546.7 344.4 547.1 344.8 547.5 344.3 547.9 343.6 548.3 344.4 548.7 343.9 549.1 344.1 549.5 343.2 549.9 343.7 550.3 341.3 550.7 331.6 551.1 321.9 551.5 312.1 551.9 302.4 552.3 309.7 552.7 319.5 553.1 329.2 553.5 325.4 553.9 316.9 554.3 313.2 554.7 321.7 555.1 330.2 555.5 338.7 555.9 344.8 556.3 344.2 556.7 344.6 557.1 343.1 557.5 343.6 557.9 342.5 558.3 334.5 558.7 326.6 559.1 330.0 559.5 314.9 559.9 326.5 560.3 337.3 560.7 334.9 561.1 337.9 561.5 341.0 561.9 344.0 562.3 343.0 562.7 343.9 563.1 345.0 563.5 344.2 563.9 343.5 564.3 343.5 564.7 330.6 565.1 316.4 565.5 302.2 565.9 294.9 566.2 277.7 566.3 283.5 566.7 306.4 567.1 329.3 567.5 343.4 567.9 344.7 568.3 339.8 568.7 333.3 569.1 336.7 569.5 343.2 569.9 344.3 570.3 344.9 570.7 340.3 571.1 326.1 571.5 312.0 571.9 305.6 572.3 319.8 572.7 333.9 573.1 343.2 573.5 344.3 573.6 344.8 573.6 346.5 569.0 346.5 568.5 345.5 568.0 345.2 567.5 345.7 567.0 346.5 526.0 346.5 525.5 344.7 525.0 344.5 524.5 345.7 524.0 346.5 523.0 346.5 522.5 344.8 522.0 346.5 518.5 346.5 518.0 345.5 517.5 345.2 517.0 346.1 516.5 346.5 483.0 346.5 482.5 345.5 482.0 344.4 481.5 345.1 481.0 346.5 460.5 346.5 460.0 345.0 459.5 345.0 459.0 346.5 458.0 346.5 457.5 346.3 457.0 345.4 456.5 345.5 456.0 346.5 448.5 346.5 448.0 345.8 447.5 344.7 447.0 346.1 446.5 346.5 421.5 346.5 421.0 344.3 420.5 346.1 420.0 346.5 409.5 346.5 409.0 345.7 408.5 344.6 408.0 345.0 407.5 346.5 398.5 346.5 398.0 346.1 397.5 345.6 397.0 346.5 386.0 346.5 385.5 345.0 385.0 344.6 384.5 345.4 384.0 346.5 335.5 346.5 335.0 345.2 334.5 345.1 334.0 346.5 319.5 346.5 319.0 345.5 318.5 345.6 318.0 346.5 307.0 346.5 306.5 345.3 306.0 346.5 299.0 346.5 298.5 345.9 298.0 344.6 297.5 346.5 290.5 346.5 290.0 346.4 289.5 344.5 289.0 344.8 288.5 346.5 281.0 346.5 280.5 345.9 280.0 345.6 279.5 346.5 275.5 346.5 275.0 345.4 274.5 345.3 274.0 346.4 273.5 346.5 206.5 346.5 206.0 346.0 205.5 345.6 205.0 346.5 199.5 346.5 199.0 346.3 198.5 344.8 198.0 346.3 197.5 346.5 195.5 346.5 195.0 344.8 194.5 344.8 194.0 346.5 132.0 346.5 131.5 345.5 131.0 344.5 130.5 345.6 130.0 346.5 93.5 346.5 93.0 345.3 92.5 345.7 92.0 346.5 77.5 346.5Z" fill="#C371D2" stroke="#C371D2" stroke-width="0.5" stroke-linejoin="round"/>
<path d="M77.5 346.2 77.9 346.1 78.3 346.0 78.7 346.1 79.1 346.2 79.5 346.3 79.9 346.3 80.3 346.2 80.7 346.1 81.1 346.0 81.5 345.8 81.9 346.0 82.3 345.7 82.7 340.1 83.1 334.4 83.5 328.7 83.9 323.1 84.3 324.9 84.7 330.5 85.1 336.2 85.5 328.6 85.9 329.4 86.3 339.3 86.7 319.4 87.1 283.3 87.5 247.2 87.6 238.1 87.9 265.2 88.3 301.3 88.7 334.7 89.1 311.2 89.5 311.1 89.9 324.1 90.3 310.4 90.7 307.0 91.1 320.6 91.5 334.2 91.9 341.5 92.3 341.9 92.7 343.0 93.1 344.0 93.5 343.5 93.9 342.7 94.3 343.6 94.7 342.0 95.1 343.4 95.5 342.9 95.9 343.0 96.3 341.3 96.7 343.0 97.1 342.1 97.5 330.8 97.9 312.1 98.3 284.6 98.6 264.0 98.7 270.9 99.1 298.4 99.5 299.9 99.9 268.8 100.1 253.3 100.3 268.8 100.7 288.7 101.0 269.5 101.1 275.9 101.5 301.6 101.9 327.2 102.3 336.6 102.7 325.3 103.1 314.0 103.5 307.6 103.9 318.8 104.3 330.1 104.7 341.4 105.1 339.9 105.5 334.9 105.9 329.9 106.3 324.8 106.7 325.3 107.1 330.3 107.5 305.8 107.9 278.7 108.1 265.1 108.3 278.7 108.7 305.8 109.1 329.9 109.5 308.8 109.9 287.8 110.3 296.9 110.7 318.0 111.1 339.0 111.5 341.8 111.9 341.9 112.3 328.1 112.7 298.7 113.1 269.2 113.2 258.2 113.5 276.6 113.9 306.0 114.3 324.5 114.7 329.6 115.1 334.8 115.5 339.7 115.9 334.0 116.3 311.3 116.7 297.3 117.1 320.1 117.5 341.7 117.9 338.5 118.3 335.2 118.7 316.8 119.1 295.6 119.5 292.9 119.9 314.2 120.3 335.4 120.7 343.7 121.1 343.8 121.5 342.4 121.9 342.8 122.3 344.1 122.7 343.4 123.1 343.3 123.5 343.8 123.9 340.4 124.3 335.0 124.7 337.8 125.1 339.9 125.5 343.9 125.9 345.3 126.3 345.2 126.7 344.9 127.1 345.0 127.5 345.3 127.9 345.3 128.3 344.2 128.7 345.2 129.1 345.4 129.5 345.0 129.9 344.8 130.3 345.3 130.7 344.5 131.1 344.7 131.5 344.2 131.9 345.0 132.3 345.3 132.7 344.6 133.1 343.9 133.5 345.3 133.9 344.2 134.3 344.7 134.7 344.2 135.1 344.8 135.5 344.0 135.9 344.4 136.3 343.7 136.7 339.2 137.1 334.7 137.5 330.3 137.9 332.9 138.3 337.4 138.7 341.8 139.1 344.0 139.5 344.9 139.9 344.8 140.3 344.0 140.7 341.4 141.1 336.4 141.5 331.3 141.9 326.3 142.3 328.8 142.7 333.8 143.1 337.4 143.5 334.6 143.9 336.4 144.3 334.6 144.7 319.5 145.1 304.3 145.5 309.9 145.9 318.6 146.3 331.5 146.7 344.2 147.1 332.9 147.5 319.2 147.9 305.4 148.3 302.2 148.7 317.4 149.1 332.6 149.5 344.5 149.9 343.6 150.3 344.7 150.7 343.2 151.1 340.5 151.5 337.9 151.9 343.5 152.3 344.8 152.7 343.0 153.1 344.8 153.5 344.7 153.9 344.5 154.3 343.7 154.7 343.3 155.1 344.8 155.5 344.2 155.9 341.4 156.3 334.8 156.7 328.1 157.1 321.4 157.5 318.7 157.9 325.4 158.3 332.0 158.7 338.7 159.1 344.6 159.5 343.9 159.9 343.4 160.3 343.9 160.7 333.4 161.1 322.3 161.5 312.5 161.9 306.2 162.3 311.6 162.7 327.0 163.1 342.4 163.5 344.3 163.9 344.3 164.3 343.6 164.7 343.4 165.1 343.5 165.5 341.9 165.9 338.0 166.3 337.5 166.7 333.9 167.1 326.6 167.5 333.8 167.9 336.0 168.3 338.8 168.7 341.5 169.1 344.3 169.5 343.2 169.9 343.3 170.3 342.8 170.7 334.8 171.1 326.8 171.5 325.0 171.9 333.0 172.3 332.6 172.7 335.7 173.1 338.9 173.5 342.0 173.9 343.1 174.3 344.7 174.7 343.7 175.1 341.7 175.5 339.8 175.9 337.9 176.3 337.6 176.7 334.4 177.1 336.0 177.5 339.1 177.9 342.3 178.3 344.7 178.7 343.5 179.1 344.8 179.5 344.9 179.9 345.0 180.3 343.4 180.7 343.7 181.1 343.8 181.5 343.3 181.9 343.7 182.3 345.0 182.7 344.9 183.1 344.9 183.5 344.8 183.9 344.8 184.3 344.6 184.7 344.4 185.1 344.0 185.5 333.6 185.9 322.3 186.3 311.6 186.7 322.8 187.1 330.6 187.5 326.6 187.9 327.7 188.3 332.3 188.7 337.0 189.1 341.6 189.5 343.4 189.9 343.9 190.3 343.4 190.7 344.4 191.1 343.3 191.5 345.0 191.9 343.7 192.3 344.9 192.7 343.4 193.1 344.5 193.5 343.9 193.9 344.5 194.3 343.9 194.7 344.2 195.1 344.6 195.5 344.9 195.9 343.4 196.3 344.2 196.7 344.4 197.1 337.4 197.5 323.4 197.9 323.0 198.3 337.0 198.7 343.5 199.1 343.6 199.5 343.9 199.9 341.6 200.3 340.0 200.7 342.7 201.1 343.3 201.5 342.0 201.9 342.4 202.3 327.0 202.7 311.4 203.0 299.7 203.1 303.6 203.5 319.2 203.9 334.8 204.3 339.0 204.7 343.2 205.1 340.3 205.5 337.9 205.9 343.4 206.3 344.6 206.7 343.5 207.1 332.7 207.5 314.4 207.9 296.1 208.0 291.5 208.3 305.2 208.7 323.6 209.1 341.9 209.5 344.2 209.9 341.6 210.3 338.5 210.7 335.7 211.1 328.1 211.5 320.4 211.9 312.7 212.3 313.8 212.7 301.7 212.8 299.7 213.1 313.4 213.5 329.0 213.9 343.5 214.3 344.2 214.7 343.4 215.1 343.4 215.5 345.1 215.9 343.8 216.3 344.2 216.7 345.1 217.1 343.9 217.5 339.1 217.9 324.5 218.3 309.8 218.5 302.5 218.7 309.8 219.1 324.5 219.5 339.1 219.9 344.9 220.3 344.1 220.7 344.0 221.1 337.1 221.5 330.0 221.9 323.7 222.3 330.7 222.7 337.8 223.1 344.9 223.5 344.1 223.9 343.7 224.3 343.7 224.7 344.4 225.1 344.5 225.5 344.0 225.9 345.0 226.3 344.0 226.7 345.1 227.1 345.1 227.5 344.2 227.9 344.2 228.3 344.5 228.7 344.1 229.1 343.3 229.5 344.0 229.9 343.0 230.3 336.1 230.7 329.2 231.1 322.3 231.5 321.8 231.9 328.7 232.3 335.6 232.7 342.5 233.1 345.0 233.5 343.8 233.9 345.0 234.3 344.7 234.7 345.0 235.1 342.2 235.5 336.0 235.9 329.9 236.3 334.8 236.7 341.0 237.1 334.1 237.5 317.6 237.9 301.1 238.0 297.0 238.3 309.4 238.7 309.2 239.1 321.0 239.5 332.7 239.9 343.8 240.3 343.7 240.7 338.4 241.1 329.9 241.5 337.4 241.9 343.8 242.3 344.8 242.7 344.8 243.1 344.0 243.5 343.4 243.9 343.7 244.3 341.2 244.7 335.1 245.1 329.0 245.5 333.3 245.9 339.4 246.3 344.9 246.7 345.2 247.1 343.7 247.5 343.8 247.9 344.3 248.3 342.5 248.7 338.5 249.1 339.4 249.5 343.4 249.9 344.4 250.3 344.7 250.7 344.3 251.1 344.4 251.5 344.5 251.9 345.1 252.3 344.0 252.7 344.0 253.1 343.9 253.5 344.9 253.9 344.5 254.3 344.2 254.7 344.0 255.1 344.2 255.5 340.7 255.9 337.2 256.3 333.7 256.7 334.5 257.1 338.0 257.5 341.5 257.9 342.9 258.3 344.0 258.7 341.2 259.1 338.3 259.5 335.4 259.9 334.3 260.3 334.9 260.7 337.4 261.1 339.9 261.5 342.5 261.9 345.0 262.3 345.1 262.7 345.1 263.1 344.6 263.5 345.1 263.9 340.6 264.3 334.2 264.7 327.8 265.1 321.5 265.5 321.1 265.9 327.5 266.3 333.8 266.7 337.5 267.1 339.4 267.5 339.1 267.9 342.8 268.3 345.0 268.7 345.2 269.1 343.8 269.5 344.1 269.9 345.1 270.3 344.8 270.7 338.6 271.1 331.5 271.5 338.9 271.9 345.1 272.3 344.3 272.7 339.8 273.1 332.3 273.5 324.8 273.9 317.3 274.3 315.0 274.7 320.9 275.1 328.9 275.5 327.8 275.9 323.0 276.3 327.5 276.7 322.8 277.1 317.5 277.5 326.3 277.9 335.0 278.3 343.8 278.7 345.2 279.1 345.0 279.5 341.7 279.9 322.4 280.3 303.2 280.6 288.7 280.7 293.5 281.1 312.8 281.5 332.0 281.9 344.2 282.3 344.9 282.7 343.6 283.1 344.1 283.5 344.6 283.9 344.5 284.3 344.6 284.7 342.4 285.1 339.2 285.5 336.0 285.9 328.6 286.3 316.7 286.5 310.7 286.7 316.7 287.1 328.6 287.5 340.5 287.9 344.8 288.3 344.0 288.7 344.1 289.1 345.1 289.5 344.3 289.9 343.7 290.3 340.4 290.7 329.1 291.1 311.7 291.5 294.2 291.5 294.2 291.9 311.7 292.3 329.1 292.7 344.4 293.1 339.7 293.5 336.1 293.9 341.8 294.3 345.2 294.7 343.6 295.1 344.4 295.5 327.9 295.9 311.4 296.2 297.0 296.3 299.0 296.7 315.5 297.1 332.0 297.5 343.9 297.9 341.4 298.3 338.8 298.7 336.3 299.1 336.3 299.5 338.9 299.9 338.8 300.3 338.6 300.7 339.4 301.1 336.9 301.5 337.1 301.9 339.5 302.3 341.9 302.7 344.3 303.1 345.1 303.5 345.2 303.9 344.5 304.3 345.1 304.7 344.2 305.1 343.8 305.5 344.9 305.9 344.9 306.3 344.0 306.7 344.4 307.1 345.2 307.5 343.7 307.9 345.2 308.3 344.4 308.7 344.9 309.1 343.1 309.5 339.0 309.9 334.0 310.3 329.0 310.7 327.7 311.1 332.7 311.5 337.6 311.9 342.6 312.3 344.5 312.7 345.0 313.1 345.1 313.5 344.4 313.9 344.5 314.3 344.2 314.7 341.7 315.1 339.2 315.5 340.5 315.9 343.0 316.3 344.9 316.7 344.9 317.1 344.8 317.5 345.2 317.9 343.7 318.3 343.9 318.7 343.7 319.1 342.0 319.5 341.8 319.9 344.0 320.3 344.9 320.7 344.4 321.1 345.2 321.5 344.0 321.9 344.7 322.3 344.0 322.7 344.3 323.1 344.4 323.5 344.6 323.9 342.8 324.3 338.6 324.7 329.3 325.1 315.5 325.4 305.2 325.5 308.7 325.9 322.4 326.3 334.1 326.7 340.8 327.1 343.6 327.5 343.9 327.9 344.4 328.3 343.8 328.7 345.2 329.1 344.4 329.5 341.5 329.9 338.2 330.3 334.9 330.7 338.1 331.1 341.4 331.5 344.0 331.9 345.0 332.3 344.8 332.7 344.9 333.1 344.2 333.5 344.0 333.9 344.1 334.3 345.3 334.7 339.3 335.1 332.2 335.5 326.1 335.9 333.2 336.3 340.3 336.7 344.8 337.1 345.2 337.5 344.5 337.9 344.3 338.3 344.2 338.7 345.1 339.1 344.5 339.5 344.3 339.9 344.1 340.3 345.3 340.7 344.6 341.1 344.9 341.5 344.5 341.9 344.5 342.3 344.7 342.7 343.9 343.1 344.4 343.5 344.9 343.9 343.9 344.3 344.8 344.7 337.5 345.1 325.6 345.5 313.7 345.6 310.7 345.9 319.7 346.3 331.6 346.7 343.5 347.1 344.7 347.5 344.0 347.9 344.4 348.3 344.2 348.7 343.3 349.1 341.6 349.5 340.8 349.9 342.5 350.3 344.0 350.7 344.2 351.1 344.4 351.5 339.5 351.9 331.4 352.3 333.0 352.7 336.3 353.1 330.9 353.5 338.1 353.9 343.4 354.3 341.9 354.7 343.3 355.1 344.7 355.5 337.7 355.9 325.6 356.3 324.3 356.7 336.4 357.1 344.2 357.5 345.3 357.9 344.2 358.3 344.2 358.7 345.4 359.1 344.8 359.5 345.1 359.9 344.6 360.3 344.3 360.7 345.1 361.1 345.4 361.5 344.4 361.9 344.6 362.3 345.1 362.7 344.6 363.1 342.2 363.5 336.4 363.9 330.7 364.3 325.0 364.7 323.1 365.1 328.8 365.5 334.5 365.9 340.2 366.3 345.4 366.7 345.2 367.1 344.7 367.5 344.8 367.9 341.8 368.3 338.8 368.7 335.8 369.1 335.4 369.5 338.4 369.9 341.4 370.3 344.5 370.7 345.3 371.1 345.4 371.5 341.0 371.9 333.9 372.3 326.7 372.7 319.6 373.1 320.3 373.5 327.5 373.9 334.6 374.3 341.7 374.7 344.4 375.1 345.1 375.5 345.4 375.9 344.8 376.3 345.3 376.7 343.4 377.1 335.8 377.5 328.2 377.9 320.6 378.3 313.4 378.7 321.0 379.1 328.6 379.5 336.2 379.9 341.2 380.3 342.6 380.7 344.0 381.1 344.0 381.5 344.7 381.9 345.0 382.3 321.3 382.7 296.1 383.1 270.9 383.1 270.9 383.5 296.1 383.9 321.3 384.3 344.3 384.7 344.1 385.1 345.3 385.5 344.3 385.9 344.0 386.3 344.1 386.7 343.9 387.1 342.3 387.5 327.1 387.9 314.5 388.3 329.6 388.7 344.4 389.1 345.2 389.5 344.1 389.9 337.4 390.3 330.4 390.7 323.5 391.1 325.6 391.5 332.6 391.9 338.5 392.3 331.7 392.7 324.8 393.1 319.7 393.5 326.5 393.9 333.3 394.3 340.1 394.7 344.7 395.1 343.6 395.5 339.8 395.9 342.2 396.3 344.4 396.7 344.3 397.1 344.5 397.5 345.3 397.9 345.1 398.3 344.8 398.7 344.9 399.1 344.4 399.5 344.0 399.9 344.4 400.3 344.5 400.7 345.3 401.1 344.9 401.5 342.5 401.9 337.5 402.3 332.5 402.7 327.5 403.1 327.5 403.5 332.5 403.9 337.5 404.3 342.5 404.7 345.3 405.1 344.9 405.5 345.2 405.9 338.8 406.3 332.5 406.7 326.1 407.1 319.7 407.5 319.1 407.9 325.4 408.3 331.8 408.7 338.1 409.1 342.9 409.5 342.3 409.9 343.2 410.3 344.1 410.7 344.7 411.1 344.6 411.5 344.2 411.9 344.4 412.3 344.6 412.7 344.1 413.1 344.5 413.5 345.2 413.9 344.6 414.3 344.8 414.7 344.8 415.1 345.0 415.5 344.3 415.9 345.0 416.3 345.1 416.7 344.3 417.1 342.9 417.5 339.3 417.9 335.7 418.3 332.0 418.7 331.5 419.1 335.1 419.5 334.0 419.9 337.4 420.3 340.7 420.7 344.1 421.1 344.4 421.5 344.2 421.9 344.1 422.3 340.8 422.7 337.6 423.1 334.3 423.5 333.1 423.9 336.4 424.3 339.7 424.7 340.2 425.1 331.5 425.5 325.3 425.9 333.9 426.3 342.6 426.7 344.8 427.1 343.9 427.5 343.9 427.9 344.8 428.3 344.4 428.7 344.9 429.1 344.9 429.5 344.5 429.9 343.8 430.3 343.2 430.7 343.9 431.1 343.8 431.5 343.9 431.9 345.0 432.3 344.1 432.7 339.9 433.1 336.7 433.5 340.9 433.9 345.0 434.3 342.4 434.7 338.8 435.1 335.1 435.5 331.4 435.9 332.8 436.3 336.5 436.7 334.8 437.1 328.4 437.5 322.1 437.9 327.3 438.3 333.7 438.7 339.1 439.1 337.5 439.5 339.4 439.9 341.4 440.3 343.3 440.7 344.1 441.1 341.9 441.5 332.6 441.9 323.4 442.3 314.2 442.7 318.0 443.1 327.2 443.5 336.5 443.9 344.1 444.3 344.8 444.7 344.9 445.1 344.8 445.5 337.2 445.9 329.8 446.3 338.8 446.7 343.7 447.1 344.0 447.5 342.9 447.9 341.8 448.3 342.8 448.7 343.9 449.1 344.5 449.5 344.3 449.9 344.0 450.3 345.1 450.7 335.5 451.1 320.8 451.5 306.2 451.6 302.5 451.9 313.5 452.3 328.1 452.7 342.8 453.1 343.1 453.5 343.7 453.9 343.6 454.3 344.4 454.7 342.3 455.1 337.2 455.5 334.4 455.9 339.5 456.3 343.5 456.7 345.1 457.1 345.1 457.5 343.9 457.9 343.5 458.3 344.7 458.7 344.0 459.1 345.1 459.5 343.8 459.9 344.3 460.3 343.4 460.7 343.4 461.1 341.8 461.5 330.7 461.9 319.7 462.3 328.8 462.7 339.8 463.1 343.7 463.5 342.3 463.9 340.3 464.3 342.3 464.7 323.6 465.1 300.7 465.5 277.7 465.5 277.7 465.9 300.7 466.3 284.6 466.5 272.2 466.7 284.6 467.1 285.8 467.3 273.6 467.5 285.8 467.9 301.1 468.2 286.0 468.3 291.0 468.7 311.2 469.1 331.4 469.5 344.5 469.9 343.5 470.3 344.3 470.7 343.6 471.1 344.6 471.5 343.8 471.9 335.9 472.3 327.9 472.7 320.0 473.1 312.1 473.5 317.3 473.9 325.3 474.3 333.2 474.7 341.1 475.1 344.9 475.5 344.6 475.9 343.5 476.3 343.9 476.7 344.4 477.1 339.4 477.5 329.5 477.9 319.5 478.3 309.6 478.7 302.0 479.1 312.0 479.5 321.9 479.9 331.9 480.3 341.9 480.7 336.9 481.1 329.7 481.5 322.4 481.9 315.2 482.3 316.4 482.7 323.6 483.1 330.9 483.5 338.1 483.9 343.2 484.3 344.1 484.7 344.4 485.1 343.1 485.5 344.6 485.9 342.9 486.3 344.0 486.7 343.2 487.1 342.8 487.5 340.1 487.9 337.4 488.3 334.8 488.7 335.7 489.1 338.4 489.5 341.1 489.9 343.2 490.3 343.8 490.7 344.0 491.1 343.4 491.5 343.9 491.9 344.4 492.3 343.5 492.7 344.0 493.1 340.6 493.5 336.5 493.9 332.4 494.3 322.9 494.7 321.7 495.1 332.8 495.5 342.2 495.9 343.8 496.3 343.9 496.7 343.7 497.1 344.6 497.5 343.2 497.9 344.2 498.3 344.3 498.7 343.7 499.1 338.5 499.5 322.6 499.9 312.9 500.3 322.7 500.7 323.8 501.1 329.6 501.5 335.5 501.9 340.9 502.3 338.7 502.7 338.5 503.1 340.6 503.5 342.8 503.9 343.2 504.3 342.8 504.7 343.4 505.1 344.7 505.5 344.4 505.9 342.7 506.3 344.5 506.7 344.0 507.1 341.8 507.5 339.1 507.9 336.5 508.3 334.2 508.7 328.6 509.1 316.6 509.5 294.9 509.8 281.3 509.9 289.5 510.3 311.2 510.7 332.9 511.1 339.4 511.5 331.5 511.9 323.6 512.3 315.7 512.7 311.9 513.1 319.8 513.5 327.7 513.9 335.6 514.3 342.6 514.7 344.1 515.1 343.0 515.5 341.8 515.9 339.5 516.3 337.2 516.7 335.4 517.1 337.7 517.5 338.7 517.9 323.1 518.3 307.5 518.5 299.7 518.7 307.5 519.1 323.1 519.5 338.7 519.9 342.9 520.3 342.7 520.7 343.7 521.1 344.0 521.5 343.6 521.9 343.0 522.3 342.9 522.7 343.4 523.1 344.4 523.5 336.4 523.9 327.9 524.3 319.5 524.7 312.0 525.1 320.5 525.5 328.9 525.9 337.3 526.3 336.5 526.7 343.4 527.1 342.7 527.5 343.5 527.9 344.7 528.3 344.4 528.7 344.1 529.1 342.7 529.5 344.4 529.9 344.2 530.3 344.7 530.7 344.2 531.1 343.0 531.5 344.2 531.9 343.2 532.3 342.7 532.7 344.6 533.1 344.3 533.5 344.0 533.9 344.8 534.3 344.8 534.7 342.9 535.1 342.7 535.5 334.3 535.9 323.5 536.3 312.7 536.7 299.5 536.9 290.1 537.1 299.5 537.5 318.3 537.9 336.5 538.3 333.9 538.7 328.2 539.1 328.9 539.5 334.5 539.9 340.2 540.3 343.8 540.7 343.7 541.1 342.6 541.5 341.4 541.9 342.0 542.3 340.6 542.7 337.1 543.1 338.4 543.5 342.0 543.9 343.1 544.3 339.8 544.7 337.5 545.1 340.8 545.5 344.0 545.9 344.5 546.3 344.8 546.7 342.9 547.1 344.2 547.5 342.8 547.9 344.8 548.3 343.6 548.7 340.5 549.1 337.4 549.5 334.3 549.9 335.9 550.3 337.9 550.7 327.2 551.1 316.4 551.5 321.0 551.9 319.5 552.3 308.9 552.7 318.8 553.1 324.7 553.5 307.3 553.8 294.2 553.9 298.6 554.3 316.0 554.7 333.4 555.1 338.8 555.5 344.1 555.9 343.8 556.3 335.7 556.7 324.0 557.1 323.4 557.5 335.1 557.9 343.4 558.3 344.2 558.7 344.7 559.1 329.5 559.5 312.6 559.9 295.6 559.9 295.6 560.3 312.6 560.7 329.5 561.1 343.4 561.5 344.7 561.9 343.6 562.3 343.2 562.7 343.0 563.1 343.9 563.5 343.2 563.9 344.2 564.3 344.9 564.7 344.6 565.1 344.4 565.5 344.9 565.9 343.0 566.3 342.9 566.7 343.2 567.1 343.9 567.5 344.1 567.9 344.3 568.3 343.8 568.7 344.7 569.1 343.4 569.5 344.3 569.9 343.4 570.3 344.8 570.7 344.4 571.1 343.3 571.5 343.4 571.9 343.7 572.3 343.8 572.7 343.0 573.1 343.7 573.5 344.4 573.6 344.6 573.6 346.5 522.5 346.5 522.0 345.5 521.5 344.3 521.0 345.4 520.5 346.5 517.0 346.5 516.5 346.0 516.0 344.6 515.5 344.8 515.0 346.5 493.5 346.5 493.0 345.5 492.5 345.5 492.0 346.2 491.5 346.5 487.5 346.5 487.0 345.6 486.5 344.5 486.0 345.1 485.5 346.5 434.5 346.5 434.0 346.5 433.5 345.6 433.0 345.6 432.5 346.5 432.0 346.5 425.5 346.5 425.0 345.0 424.5 344.8 424.0 346.5 390.5 346.5 390.0 344.4 389.5 346.2 389.0 346.5 385.0 346.5 384.5 345.9 384.0 345.5 383.5 346.0 383.0 346.5 356.0 346.5 355.5 345.0 355.0 346.2 354.5 346.5 338.5 346.5 338.0 346.1 337.5 345.1 337.0 345.1 336.5 346.2 336.0 346.5 313.5 346.5 313.0 345.6 312.5 344.8 312.0 346.5 287.5 346.5 287.0 345.7 286.5 345.3 286.0 346.0 285.5 346.5 269.5 346.5 269.0 345.3 268.5 345.4 268.0 346.5 257.0 346.5 256.5 346.3 256.0 345.4 255.5 345.5 255.0 346.5 224.0 346.5 223.5 345.5 223.0 345.3 222.5 346.5 217.0 346.5 216.5 345.0 216.0 345.0 215.5 346.5 215.0 346.4 214.5 345.0 214.0 344.9 213.5 345.8 213.0 346.5 196.5 346.5 196.0 345.3 195.5 344.3 195.0 345.0 194.5 346.5 194.0 346.5 193.5 346.5 193.0 345.4 192.5 345.8 192.0 346.5 176.5 346.5 176.0 346.2 175.5 345.4 175.0 345.5 174.5 346.5 162.5 346.5 162.0 344.5 161.5 345.4 161.0 346.5 138.5 346.5 138.0 346.0 137.5 344.6 137.0 345.2 136.5 346.5 121.0 346.5 120.5 345.3 120.0 344.5 119.5 346.5 81.5 346.5 81.0 345.5 80.5 344.8 80.0 345.1 79.5 346.5 77.5 346.5Z" fill="#AC8E18" stroke="#AC8E18" stroke-width="0.5" stroke-linejoin="round"/>
<path d="M77.5 346.3 77.9 346.4 78.3 346.4 78.7 346.3 79.1 346.3 79.5 346.3 79.9 345.0 80.3 344.3 80.7 344.1 81.1 343.4 81.5 344.0 81.9 344.7 82.3 345.5 82.7 346.1 83.1 345.7 83.5 344.2 83.9 342.2 84.3 340.2 84.7 340.4 85.1 342.5 85.5 337.7 85.9 324.1 86.3 310.6 86.7 298.2 87.1 311.7 87.5 325.3 87.9 338.9 88.3 337.1 88.7 324.2 89.1 328.0 89.5 291.1 89.9 254.1 90.1 235.7 90.3 254.1 90.7 291.1 91.1 263.3 91.2 255.7 91.5 278.4 91.9 306.4 92.3 283.5 92.4 277.7 92.7 294.9 93.1 317.8 93.5 325.5 93.9 333.8 94.3 342.0 94.7 343.2 95.1 341.6 95.5 343.3 95.9 343.3 96.3 342.1 96.7 341.7 97.1 341.5 97.5 342.2 97.9 343.9 98.3 343.7 98.7 341.8 99.1 343.3 99.5 342.0 99.9 344.0 100.3 343.1 100.7 342.1 101.1 342.3 101.5 342.0 101.9 342.1 102.3 342.4 102.7 341.4 103.1 326.4 103.5 303.5 103.9 316.3 104.3 339.1 104.7 343.3 105.1 342.1 105.5 342.3 105.9 344.1 106.3 341.6 106.7 344.1 107.1 342.2 107.5 343.5 107.9 342.6 108.3 342.6 108.7 343.1 109.1 342.2 109.5 339.2 109.9 334.8 110.3 330.3 110.7 326.1 111.1 330.5 111.5 335.0 111.9 339.5 112.3 342.9 112.7 335.7 113.1 328.5 113.5 321.3 113.9 314.1 114.3 318.9 114.7 326.1 115.1 326.2 115.5 330.3 115.9 334.7 116.3 334.7 116.7 326.7 117.1 318.7 117.5 314.6 117.9 322.6 118.3 323.9 118.7 299.3 119.1 292.4 119.5 317.0 119.9 341.7 120.3 344.0 120.7 344.5 121.1 344.3 121.5 342.9 121.9 342.6 122.3 342.7 122.7 344.5 123.1 344.1 123.5 343.2 123.9 344.9 124.3 343.4 124.7 340.5 125.1 337.6 125.5 334.7 125.9 337.0 126.3 339.9 126.7 342.8 127.1 340.3 127.5 337.4 127.9 334.5 128.3 335.7 128.7 338.6 129.1 333.6 129.5 324.1 129.9 317.8 130.3 327.2 130.7 336.7 131.1 343.6 131.5 344.1 131.9 339.8 132.3 333.6 132.7 327.4 133.1 329.4 133.5 334.9 133.9 337.8 134.3 330.7 134.7 322.7 135.1 317.3 135.5 325.2 135.9 333.2 136.3 341.2 136.7 344.2 137.1 343.9 137.5 344.6 137.9 343.8 138.3 342.0 138.7 340.2 139.1 337.2 139.5 331.9 139.9 326.7 140.3 321.4 140.7 326.5 141.1 331.7 141.5 337.0 141.9 342.3 142.3 343.2 142.7 343.7 143.1 343.9 143.5 344.8 143.9 344.5 144.3 343.9 144.7 344.4 145.1 342.5 145.5 338.5 145.9 334.5 146.3 329.3 146.7 320.3 147.1 311.4 147.5 318.5 147.9 327.4 148.3 336.4 148.7 343.1 149.1 343.1 149.5 343.0 149.9 336.4 150.3 329.0 150.7 325.3 151.1 332.7 151.5 339.8 151.9 342.3 152.3 340.9 152.7 340.5 153.1 342.0 153.5 343.5 153.9 344.1 154.3 344.2 154.7 344.2 155.1 343.2 155.5 343.2 155.9 344.9 156.3 344.2 156.7 344.4 157.1 341.1 157.5 331.3 157.9 321.5 158.3 311.8 158.7 303.6 159.1 313.4 159.5 323.1 159.9 332.9 160.3 337.6 160.7 334.9 161.1 338.0 161.5 341.1 161.9 341.2 162.3 332.5 162.7 335.6 163.1 344.3 163.5 341.2 163.9 336.6 164.3 331.9 164.7 327.2 165.1 327.6 165.5 332.3 165.9 336.9 166.3 341.6 166.7 342.1 167.1 338.2 167.5 334.4 167.9 338.1 168.3 342.0 168.7 343.2 169.1 343.1 169.5 343.2 169.9 342.3 170.3 343.4 170.7 344.5 171.1 344.4 171.5 344.1 171.9 344.4 172.3 344.5 172.7 344.9 173.1 343.8 173.5 343.8 173.9 344.1 174.3 344.1 174.7 342.6 175.1 334.4 175.5 336.9 175.9 344.8 176.3 343.2 176.7 336.4 177.1 327.7 177.5 319.0 177.9 316.8 178.3 325.6 178.7 334.3 179.1 343.0 179.5 343.5 179.9 345.0 180.3 343.2 180.7 343.5 181.1 343.3 181.5 342.3 181.9 335.5 182.3 319.3 182.7 322.2 183.1 338.4 183.5 343.2 183.9 343.3 184.3 344.2 184.7 345.0 185.1 345.0 185.5 343.5 185.9 343.9 186.3 343.4 186.7 344.7 187.1 344.4 187.5 343.6 187.9 344.1 188.3 343.8 188.7 343.5 189.1 344.7 189.5 344.9 189.9 343.5 190.3 344.2 190.7 343.6 191.1 343.2 191.5 344.8 191.9 344.6 192.3 343.2 192.7 344.4 193.1 343.4 193.5 343.9 193.9 343.9 194.3 345.0 194.7 344.9 195.1 343.1 195.5 340.4 195.9 337.5 196.3 330.4 196.7 337.6 197.1 342.3 197.5 344.2 197.9 331.2 198.3 313.8 198.7 296.4 198.8 294.2 199.1 309.5 199.5 326.9 199.9 319.7 200.3 309.9 200.7 309.8 201.1 319.6 201.5 329.5 201.9 335.7 202.3 337.4 202.7 340.9 203.1 344.1 203.5 344.6 203.9 339.9 204.3 332.3 204.7 324.7 205.1 320.5 205.5 328.1 205.9 335.7 206.3 343.3 206.7 344.5 207.1 344.2 207.5 343.3 207.9 343.3 208.3 344.8 208.7 343.8 209.1 342.7 209.5 336.4 209.9 330.0 210.3 332.0 210.7 338.4 211.1 343.9 211.5 345.1 211.9 344.6 212.3 344.3 212.7 344.1 213.1 344.1 213.5 343.9 213.9 344.2 214.3 342.3 214.7 340.4 215.1 340.6 215.5 342.5 215.9 341.6 216.3 340.2 216.7 343.4 217.1 344.5 217.5 343.6 217.9 343.9 218.3 345.1 218.7 344.6 219.1 344.3 219.5 344.3 219.9 339.8 220.3 335.2 220.7 336.9 221.1 341.4 221.5 344.2 221.9 344.3 222.3 343.9 222.7 344.4 223.1 344.4 223.5 344.3 223.9 342.9 224.3 337.8 224.7 332.7 225.1 333.7 225.5 338.8 225.9 337.5 226.3 341.6 226.7 344.2 227.1 343.8 227.5 343.4 227.9 344.5 228.3 343.3 228.7 344.0 229.1 345.0 229.5 344.3 229.9 343.3 230.3 344.7 230.7 343.8 231.1 343.6 231.5 340.5 231.9 333.5 232.3 326.5 232.7 325.1 233.1 332.1 233.5 339.2 233.9 343.3 234.3 345.0 234.7 344.3 235.1 344.2 235.5 344.9 235.9 344.9 236.3 344.9 236.7 344.9 237.1 344.8 237.5 344.6 237.9 343.6 238.3 344.8 238.7 343.8 239.1 343.6 239.5 343.3 239.9 344.5 240.3 341.1 240.7 337.7 241.1 334.2 241.5 332.0 241.9 335.5 242.3 338.9 242.7 342.3 243.1 336.3 243.5 327.7 243.9 318.6 244.3 309.5 244.7 308.4 245.1 318.6 245.5 327.7 245.9 336.8 246.3 343.5 246.7 339.6 247.1 323.1 247.5 306.6 247.9 319.9 248.3 336.4 248.7 344.3 249.1 344.4 249.5 344.1 249.9 344.2 250.3 345.1 250.7 344.8 251.1 345.0 251.5 344.3 251.9 343.3 252.3 343.4 252.7 344.3 253.1 343.3 253.5 344.7 253.9 344.4 254.3 343.4 254.7 344.2 255.1 344.6 255.5 344.0 255.9 344.8 256.3 344.0 256.7 344.4 257.1 344.6 257.5 344.8 257.9 344.1 258.3 343.7 258.7 343.7 259.1 344.7 259.5 344.5 259.9 317.6 260.3 279.1 260.7 240.6 260.8 231.0 261.1 259.9 261.5 298.4 261.9 331.5 262.3 336.9 262.7 342.3 263.1 343.7 263.5 345.1 263.9 344.0 264.3 344.2 264.7 343.8 265.1 338.7 265.5 330.7 265.9 322.8 266.3 314.8 266.7 307.2 267.1 315.1 267.5 323.1 267.9 331.1 268.3 339.0 268.7 344.9 269.1 343.6 269.5 344.6 269.9 345.0 270.3 344.1 270.7 344.7 271.1 343.9 271.5 342.4 271.9 336.2 272.3 328.5 272.7 323.7 273.1 331.4 273.5 339.1 273.9 340.3 274.3 338.0 274.7 338.8 275.1 341.1 275.5 343.4 275.9 331.0 276.3 317.7 276.7 305.5 277.1 318.8 277.5 332.1 277.9 344.4 278.3 345.0 278.7 341.6 279.1 336.8 279.5 332.0 279.9 327.2 280.3 329.6 280.7 334.4 281.1 339.2 281.5 344.1 281.9 343.9 282.3 345.1 282.7 344.9 283.1 344.2 283.5 344.9 283.9 344.9 284.3 343.5 284.7 343.7 285.1 343.7 285.5 344.9 285.9 344.1 286.3 345.1 286.7 343.5 287.1 344.0 287.5 344.3 287.9 341.1 288.3 336.6 288.7 333.6 289.1 338.0 289.5 342.5 289.9 343.7 290.3 342.5 290.7 328.9 291.1 315.3 291.5 320.0 291.9 333.7 292.3 344.8 292.7 344.3 293.1 344.5 293.5 344.7 293.9 343.8 294.3 344.6 294.7 341.6 295.1 337.6 295.5 333.7 295.9 331.9 296.3 335.9 296.7 339.8 297.1 340.7 297.5 338.7 297.9 338.2 298.3 340.1 298.7 341.0 299.1 326.3 299.5 311.7 299.8 302.5 299.9 308.0 300.3 322.6 300.7 337.3 301.1 340.0 301.5 332.5 301.9 325.0 302.3 323.4 302.7 330.9 303.1 338.3 303.5 328.1 303.9 303.7 304.3 279.2 304.4 273.1 304.7 291.4 305.1 315.9 305.5 334.5 305.9 336.4 306.3 339.8 306.7 343.2 307.1 342.4 307.5 337.7 307.9 342.2 308.3 343.1 308.7 329.5 309.1 316.0 309.4 305.8 309.5 309.2 309.9 322.7 310.3 336.3 310.7 341.8 311.1 334.0 311.5 326.2 311.9 318.3 312.3 313.8 312.7 321.6 313.1 329.4 313.5 337.3 313.9 338.5 314.3 343.4 314.7 344.3 315.1 344.9 315.5 344.9 315.9 344.1 316.3 344.9 316.7 343.6 317.1 343.6 317.5 344.2 317.9 344.8 318.3 343.7 318.7 339.1 319.1 334.5 319.5 330.0 319.9 325.4 320.3 328.5 320.7 333.1 321.1 337.7 321.5 342.3 321.9 344.1 322.3 344.7 322.7 345.0 323.1 344.6 323.5 344.4 323.9 344.6 324.3 344.3 324.7 343.6 325.1 344.5 325.5 344.7 325.9 345.0 326.3 345.1 326.7 343.7 327.1 343.9 327.5 344.8 327.9 344.5 328.3 343.5 328.7 329.1 329.1 308.3 329.5 326.8 329.9 343.5 330.3 344.5 330.7 343.7 331.1 343.9 331.5 344.1 331.9 344.8 332.3 345.0 332.7 344.0 333.1 344.0 333.5 342.2 333.9 336.6 334.3 331.1 334.7 335.3 335.1 338.1 335.5 332.6 335.9 334.4 336.3 339.9 336.7 345.2 337.1 343.8 337.5 343.5 337.9 344.0 338.3 344.7 338.7 344.4 339.1 344.6 339.5 344.9 339.9 344.3 340.3 341.9 340.7 337.7 341.1 338.1 341.5 342.3 341.9 331.3 342.3 314.0 342.7 296.7 342.8 294.5 343.1 309.7 343.5 327.0 343.9 328.7 344.3 323.2 344.7 325.5 345.1 330.9 345.5 331.2 345.9 320.7 346.3 328.8 346.7 321.4 347.1 321.6 347.5 328.9 347.9 334.9 348.3 330.8 348.7 336.7 349.1 342.5 349.5 344.3 349.9 344.3 350.3 344.8 350.7 341.6 351.1 337.0 351.5 341.0 351.9 345.1 352.3 342.7 352.7 339.2 353.1 337.1 353.5 340.6 353.9 344.0 354.3 344.2 354.7 344.7 355.1 344.5 355.5 343.5 355.9 342.3 356.3 342.1 356.7 343.2 357.1 344.4 357.5 345.0 357.9 344.6 358.3 345.1 358.7 344.5 359.1 344.0 359.5 344.5 359.9 344.6 360.3 344.6 360.7 344.9 361.1 345.1 361.5 344.6 361.9 345.0 362.3 345.4 362.7 345.3 363.1 345.1 363.5 344.7 363.9 345.5 364.3 344.9 364.7 344.7 365.1 345.5 365.5 344.7 365.9 344.8 366.3 344.7 366.7 345.5 367.1 345.1 367.5 336.4 367.9 326.1 368.3 319.3 368.7 329.7 369.1 340.0 369.5 344.1 369.9 341.1 370.3 338.5 370.7 338.2 371.1 334.7 371.5 334.2 371.9 337.8 372.3 341.3 372.7 344.9 373.1 344.1 373.5 343.8 373.9 345.1 374.3 344.0 374.7 344.9 375.1 345.2 375.5 344.5 375.9 343.6 376.3 334.3 376.7 314.9 377.1 295.5 377.2 288.2 377.5 300.3 377.9 319.8 378.3 339.2 378.7 344.5 379.1 345.0 379.5 344.1 379.9 344.3 380.3 343.9 380.7 344.8 381.1 344.4 381.5 345.2 381.9 344.1 382.3 343.6 382.7 337.6 383.1 331.5 383.5 333.4 383.9 319.5 384.3 304.1 384.4 300.3 384.7 311.8 385.1 327.2 385.5 342.6 385.9 345.2 386.3 345.0 386.7 343.6 387.1 344.7 387.5 343.9 387.9 345.1 388.3 344.8 388.7 343.9 389.1 343.4 389.5 341.3 389.9 339.1 390.3 341.0 390.7 343.1 391.1 344.4 391.5 343.3 391.9 342.3 392.3 342.2 392.7 343.3 393.1 344.3 393.5 344.5 393.9 332.1 394.3 315.7 394.7 299.3 394.8 297.3 395.1 311.6 395.5 328.0 395.9 336.9 396.3 330.7 396.7 327.0 397.1 333.1 397.5 339.2 397.9 343.7 398.3 344.8 398.7 344.1 399.1 344.3 399.5 343.8 399.9 341.0 400.3 338.2 400.7 337.1 401.1 339.9 401.5 342.7 401.9 344.5 402.3 341.2 402.7 335.8 403.1 334.1 403.5 339.5 403.9 344.6 404.3 337.6 404.7 329.5 405.1 321.4 405.5 318.3 405.9 326.4 406.3 334.5 406.7 342.6 407.1 344.5 407.5 344.6 407.9 344.5 408.3 343.0 408.7 340.4 409.1 337.8 409.5 326.2 409.9 308.1 410.2 292.3 410.3 294.6 410.7 312.6 411.1 330.7 411.5 338.1 411.9 341.7 412.3 343.6 412.7 344.4 413.1 342.7 413.5 342.8 413.9 342.3 414.3 325.6 414.7 308.9 415.0 296.4 415.1 300.6 415.5 317.3 415.9 334.0 416.3 344.8 416.7 345.2 417.1 344.0 417.5 343.9 417.9 343.5 418.3 343.5 418.7 340.2 419.1 338.5 419.5 341.7 419.9 339.4 420.3 334.9 420.7 330.3 421.1 327.2 421.5 331.8 421.9 336.3 422.3 340.9 422.7 344.1 423.1 344.0 423.5 339.4 423.9 333.5 424.3 334.9 424.7 317.6 425.1 313.9 425.5 331.3 425.9 332.6 426.3 330.7 426.7 334.2 427.1 337.6 427.5 341.0 427.9 344.3 428.3 340.8 428.7 336.9 429.1 337.1 429.5 337.4 429.9 339.8 430.3 338.3 430.7 335.1 431.1 331.9 431.5 324.0 431.9 316.1 432.3 325.2 432.7 334.2 433.1 343.3 433.5 344.8 433.9 344.6 434.3 344.9 434.7 345.0 435.1 344.7 435.5 340.5 435.9 334.4 436.3 328.2 436.7 322.0 437.1 322.2 437.5 328.4 437.9 334.5 438.3 340.7 438.7 345.0 439.1 344.5 439.5 343.6 439.9 343.9 440.3 344.8 440.7 343.5 441.1 343.8 441.5 343.4 441.9 344.8 442.3 344.1 442.7 343.9 443.1 345.1 443.5 344.4 443.9 343.1 444.3 339.5 444.7 335.8 445.1 332.2 445.5 328.6 445.9 332.2 446.3 335.9 446.7 339.5 447.1 343.1 447.5 339.7 447.9 336.3 448.3 334.7 448.7 338.1 449.1 341.5 449.5 344.2 449.9 345.0 450.3 344.5 450.7 344.6 451.1 343.3 451.5 343.7 451.9 343.5 452.3 343.6 452.7 344.9 453.1 344.0 453.5 344.4 453.9 344.3 454.3 343.4 454.7 336.6 455.1 329.8 455.5 331.0 455.9 337.8 456.3 343.6 456.7 343.3 457.1 334.8 457.5 319.2 457.9 303.6 458.0 299.7 458.3 311.4 458.7 307.3 459.0 294.2 459.1 298.6 459.5 316.0 459.9 301.1 460.0 297.0 460.3 309.4 460.7 325.9 461.1 321.9 461.5 297.4 461.9 272.8 461.9 272.8 462.3 297.4 462.7 321.9 463.1 341.9 463.5 337.4 463.9 332.9 464.3 328.4 464.7 332.2 465.1 336.7 465.5 338.1 465.9 336.3 466.3 338.4 466.7 340.4 467.1 342.5 467.5 344.6 467.9 344.8 468.3 343.2 468.7 344.0 469.1 343.1 469.5 334.0 469.9 317.3 470.3 300.6 470.4 296.4 470.7 308.9 471.1 325.6 471.5 342.3 471.9 343.8 472.3 343.4 472.7 342.6 473.1 344.0 473.5 342.6 473.9 343.0 474.3 342.9 474.7 343.7 475.1 343.1 475.5 343.4 475.9 340.6 476.3 337.8 476.7 328.1 477.1 309.8 477.5 291.5 477.5 291.5 477.9 309.8 478.3 298.4 478.5 288.7 478.7 298.4 479.0 299.7 479.1 303.6 479.5 291.5 479.5 291.5 479.9 309.8 480.3 298.4 480.5 288.7 480.7 298.4 481.1 311.2 481.5 291.0 481.6 286.0 481.9 301.1 482.3 321.3 482.7 319.7 483.1 298.6 483.5 316.7 483.9 335.6 484.3 343.7 484.7 344.1 485.1 342.4 485.5 342.1 485.9 342.6 486.3 338.0 486.7 336.7 487.1 342.1 487.5 344.0 487.9 344.0 488.3 343.7 488.7 343.5 489.1 342.3 489.5 342.4 489.9 344.2 490.3 342.5 490.7 342.9 491.1 341.1 491.5 342.1 491.9 343.5 492.3 343.3 492.7 342.1 493.1 344.4 493.5 342.0 493.9 343.2 494.3 344.2 494.7 342.1 495.1 342.2 495.5 343.7 495.9 343.2 496.3 343.6 496.7 343.5 497.1 341.0 497.5 338.2 497.9 334.5 498.3 330.0 498.7 328.1 499.1 332.6 499.5 337.1 499.9 341.6 500.3 344.0 500.7 343.5 501.1 344.1 501.5 343.8 501.9 334.6 502.3 327.0 502.7 338.5 503.1 341.9 503.5 339.6 503.9 337.3 504.3 336.4 504.7 338.7 505.1 341.0 505.5 343.3 505.9 344.4 506.3 342.4 506.7 344.1 507.1 344.0 507.5 344.3 507.9 342.8 508.3 344.1 508.7 342.7 509.1 342.8 509.5 341.9 509.9 343.5 510.3 343.1 510.7 339.1 511.1 333.5 511.5 327.9 511.9 322.3 512.3 321.5 512.7 327.1 513.1 332.7 513.5 338.3 513.9 326.6 514.3 314.5 514.7 302.3 515.1 295.7 515.5 307.8 515.9 319.2 516.3 305.7 516.7 327.4 517.1 343.4 517.5 344.4 517.9 336.5 518.3 314.3 518.7 292.1 519.1 310.4 519.5 332.6 519.9 342.6 520.3 330.5 520.7 318.4 521.1 306.3 521.5 298.0 521.9 307.7 522.3 292.0 522.7 306.2 523.1 321.9 523.5 326.8 523.9 331.8 524.3 336.8 524.7 341.8 525.1 344.5 525.5 344.2 525.9 342.4 526.3 342.6 526.7 338.3 527.1 334.1 527.5 337.8 527.9 342.1 528.3 343.2 528.7 343.5 529.1 343.0 529.5 340.7 529.9 335.5 530.3 330.9 530.7 336.1 531.1 341.4 531.5 343.9 531.9 343.7 532.3 343.4 532.7 342.9 533.1 344.3 533.5 343.0 533.9 343.7 534.3 344.0 534.7 344.3 535.1 343.4 535.5 344.6 535.9 344.1 536.3 343.8 536.7 341.7 537.1 338.3 537.5 335.0 537.9 331.7 538.3 334.3 538.7 337.6 539.1 340.9 539.5 344.3 539.9 344.1 540.3 344.4 540.7 343.3 541.1 344.4 541.5 343.5 541.9 344.0 542.3 344.6 542.7 343.0 543.1 344.6 543.5 343.3 543.9 343.6 544.3 342.6 544.7 343.7 545.1 344.3 545.5 343.7 545.9 338.7 546.3 331.9 546.7 329.9 547.1 336.7 547.5 339.1 547.9 311.7 548.3 311.3 548.7 338.7 549.1 344.6 549.5 342.3 549.9 333.3 550.3 324.1 550.7 320.5 551.1 329.7 551.5 338.9 551.9 344.0 552.3 344.7 552.7 344.0 553.1 343.3 553.5 338.4 553.9 330.4 554.3 322.4 554.7 320.1 555.1 328.1 555.5 336.1 555.9 342.7 556.3 343.8 556.7 343.1 557.1 342.5 557.5 343.1 557.9 342.4 558.3 342.5 558.7 342.7 559.1 335.2 559.5 330.7 559.9 338.3 560.3 344.5 560.7 339.1 561.1 324.5 561.5 309.8 561.7 302.5 561.9 309.8 562.3 324.5 562.7 339.1 563.1 342.7 563.5 342.7 563.9 342.1 564.3 337.1 564.7 332.0 565.1 332.4 565.5 337.4 565.9 342.5 566.3 332.2 566.7 311.0 567.1 310.5 567.5 331.8 567.9 342.5 568.3 343.8 568.7 343.9 569.1 343.4 569.5 344.7 569.9 330.4 570.3 314.4 570.7 298.4 570.7 298.4 571.1 314.4 571.5 330.4 571.9 335.0 572.3 339.6 572.7 343.1 573.1 343.4 573.5 344.4 573.6 344.7 573.6 346.5 571.0 346.5 570.5 346.3 570.0 345.5 569.5 345.5 569.0 346.4 568.5 346.5 563.0 346.5 562.5 346.5 562.0 345.4 561.5 345.5 561.0 346.5 539.5 346.5 539.0 344.7 538.5 345.8 538.0 346.5 528.5 346.5 528.0 345.0 527.5 344.5 527.0 345.6 526.5 346.5 519.5 346.5 519.0 344.4 518.5 344.5 518.0 346.5 506.5 346.5 506.0 346.0 505.5 344.5 505.0 344.5 504.5 346.0 504.0 346.5 487.5 346.5 487.0 345.0 486.5 344.3 486.0 345.3 485.5 346.5 471.0 346.5 470.5 344.9 470.0 344.7 469.5 346.3 469.0 346.5 434.5 346.5 434.0 345.4 433.5 344.4 433.0 344.6 432.5 346.5 430.5 346.5 430.0 346.4 429.5 344.6 429.0 345.2 428.5 346.5 394.0 346.5 393.5 344.9 393.0 345.2 392.5 346.5 364.5 346.5 364.0 345.3 363.5 345.6 363.0 346.5 261.0 346.5 260.5 346.3 260.0 345.3 259.5 345.8 259.0 346.5 249.0 346.5 248.5 345.3 248.0 344.9 247.5 345.6 247.0 346.5 239.5 346.5 239.0 346.2 238.5 344.3 238.0 345.9 237.5 346.5 236.0 346.5 235.5 345.8 235.0 345.6 234.5 346.5 224.0 346.5 223.5 345.5 223.0 345.6 222.5 346.5 210.5 346.5 210.0 345.3 209.5 345.0 209.0 346.2 208.5 346.5 198.5 346.5 198.0 345.0 197.5 345.3 197.0 346.5 182.0 346.5 181.5 345.5 181.0 346.5 180.5 346.5 144.0 346.5 143.5 344.9 143.0 345.9 142.5 346.5 124.0 346.5 123.5 345.4 123.0 344.6 122.5 346.1 122.0 346.5 120.5 346.5 120.0 345.7 119.5 345.2 119.0 345.6 118.5 346.5 77.5 346.5Z" fill="#00A9AD" stroke="#00A9AD" stroke-width="0.5" stroke-linejoin="round"/>
<path d="M77.5 343.9 77.9 344.2 78.3 344.8 78.7 345.5 79.1 345.8 79.5 345.5 79.9 344.7 80.3 345.2 80.7 345.4 81.1 345.8 81.5 345.6 81.9 345.2 82.3 340.8 82.7 336.2 83.0 332.7 83.1 327.2 83.5 316.2 83.6 313.5 83.9 321.7 84.3 309.6 84.3 309.6 84.7 321.9 85.0 319.0 85.1 321.3 85.5 328.8 85.9 326.6 86.3 330.1 86.7 319.9 87.1 333.5 87.5 327.7 87.9 326.7 88.3 319.4 88.7 318.4 89.1 306.1 89.5 303.4 89.9 312.0 90.3 294.4 90.7 293.5 91.1 311.1 91.5 320.1 91.9 324.4 92.3 296.1 92.7 263.5 93.1 305.8 93.5 329.1 93.9 319.9 94.3 323.2 94.7 325.4 95.1 327.4 95.5 331.6 95.9 331.0 96.3 326.4 96.7 316.6 97.1 324.9 97.5 331.8 97.9 332.5 98.3 330.4 98.7 325.4 99.1 322.6 99.5 325.4 99.9 328.8 100.3 328.2 100.7 321.6 101.1 326.0 101.5 322.3 101.9 328.9 102.3 329.7 102.7 313.2 103.1 291.8 103.5 270.4 103.9 249.1 104.3 265.4 104.7 286.8 105.1 308.2 105.5 320.6 105.9 320.1 106.3 322.9 106.7 324.5 107.1 331.6 107.5 304.3 107.9 272.2 108.3 257.9 108.7 290.0 109.1 311.2 109.5 292.8 109.9 262.7 110.3 269.6 110.7 299.7 111.1 325.9 111.5 324.0 111.9 319.1 112.3 324.2 112.7 330.8 113.1 322.7 113.5 309.8 113.9 281.8 114.3 274.4 114.7 302.4 115.1 330.4 115.5 327.1 115.9 301.2 116.3 275.4 116.4 268.9 116.7 288.3 117.1 314.2 117.5 323.6 117.9 326.6 118.3 324.2 118.7 322.9 119.1 324.7 119.5 330.3 119.9 332.5 120.3 320.8 120.7 333.7 121.1 323.1 121.5 332.9 121.9 337.1 122.3 333.8 122.7 336.5 123.1 331.9 123.5 331.2 123.9 318.6 124.3 306.0 124.7 306.5 125.1 319.1 125.5 331.7 125.9 330.6 126.3 334.7 126.7 331.4 127.1 331.6 127.5 335.7 127.9 337.9 128.3 340.2 128.7 329.6 129.1 320.0 129.5 330.5 129.9 340.8 130.3 340.6 130.7 338.8 131.1 337.5 131.5 338.7 131.9 323.1 132.3 307.5 132.5 299.7 132.7 307.5 133.1 323.1 133.5 334.1 133.9 334.4 134.3 318.1 134.7 322.0 135.1 338.4 135.5 335.7 135.9 323.3 136.3 320.7 136.7 333.1 137.1 341.4 137.5 338.7 137.9 337.6 138.3 333.9 138.7 330.1 139.1 330.9 139.5 334.6 139.9 337.0 140.3 339.9 140.7 336.8 141.1 337.1 141.5 341.5 141.9 335.9 142.3 336.5 142.7 339.3 143.1 337.3 143.5 332.0 143.9 337.3 144.3 337.0 144.7 328.3 145.1 319.7 145.5 319.2 145.9 327.9 146.3 336.0 146.7 340.9 147.1 336.2 147.5 328.1 147.9 320.8 148.3 329.0 148.7 335.4 149.1 337.3 149.5 336.4 149.9 331.2 150.3 326.0 150.7 321.2 151.1 326.4 151.5 330.6 151.9 332.7 152.3 336.1 152.7 338.4 153.1 337.8 153.5 327.1 153.9 301.2 154.3 275.4 154.4 268.9 154.7 288.3 155.1 314.2 155.5 334.0 155.9 328.9 156.3 323.7 156.7 328.6 157.1 323.1 157.5 319.1 157.9 332.4 158.3 338.2 158.7 337.9 159.1 340.5 159.5 339.6 159.9 336.9 160.3 336.8 160.7 334.5 161.1 335.1 161.5 339.4 161.9 333.4 162.3 340.3 162.7 337.1 163.1 332.8 163.5 328.5 163.9 326.0 164.3 330.3 164.7 326.5 165.1 312.9 165.5 299.3 165.9 310.7 166.3 324.3 166.7 327.0 167.1 317.1 167.5 307.2 167.9 298.4 168.3 308.3 168.7 318.2 169.1 328.0 169.5 337.2 169.9 334.3 170.3 336.0 170.7 334.5 171.1 339.8 171.5 337.5 171.9 336.2 172.3 332.5 172.7 334.0 173.1 332.8 173.5 335.1 173.9 332.7 174.3 318.8 174.7 320.9 175.1 334.8 175.5 335.8 175.9 336.8 176.3 339.1 176.7 335.9 177.1 332.5 177.5 338.5 177.9 335.5 178.3 325.3 178.7 311.1 179.1 294.9 179.4 277.7 179.5 283.5 179.9 306.4 180.3 329.3 180.7 333.4 181.1 337.4 181.5 332.7 181.9 340.0 182.3 334.1 182.7 332.7 183.1 331.8 183.5 337.0 183.9 332.8 184.3 333.8 184.7 333.6 185.1 332.0 185.5 334.1 185.9 334.9 186.3 332.7 186.7 333.5 187.1 338.3 187.5 328.6 187.9 319.0 188.3 309.4 188.7 311.6 189.1 309.4 189.5 321.9 189.9 331.4 190.3 333.5 190.7 334.3 191.1 336.0 191.5 331.9 191.9 334.0 192.3 335.6 192.7 334.5 193.1 339.1 193.5 336.5 193.9 332.8 194.3 339.3 194.7 333.8 195.1 338.0 195.5 333.6 195.9 330.9 196.3 314.9 196.7 297.2 197.1 300.3 197.5 317.9 197.9 335.6 198.3 339.0 198.7 331.5 199.1 337.6 199.5 334.7 199.9 337.0 200.3 330.7 200.7 339.2 201.1 331.7 201.5 335.2 201.9 332.4 202.3 334.8 202.7 337.1 203.1 332.1 203.5 337.4 203.9 338.9 204.3 336.9 204.7 336.2 205.1 339.0 205.5 336.0 205.9 339.5 206.3 330.8 206.7 336.7 207.1 335.3 207.5 332.2 207.9 331.7 208.3 336.0 208.7 328.7 209.1 314.5 209.4 303.9 209.5 307.4 209.9 293.8 210.3 305.1 210.7 325.5 211.1 331.6 211.5 327.2 211.9 308.8 212.3 290.4 212.7 306.6 213.1 314.1 213.5 329.1 213.9 337.2 214.3 334.9 214.7 332.2 215.1 326.2 215.5 320.1 215.9 322.0 216.3 328.1 216.7 334.1 217.1 331.0 217.5 330.6 217.9 336.6 218.3 335.7 218.7 335.1 219.1 331.8 219.5 324.1 219.9 316.4 220.3 322.1 220.7 327.8 221.1 329.8 221.5 330.9 221.9 335.4 222.3 334.8 222.7 329.8 223.1 324.6 223.5 322.4 223.9 327.6 224.3 332.9 224.7 331.1 225.1 337.5 225.5 338.8 225.9 334.0 226.3 327.4 226.7 319.5 227.1 323.6 227.5 331.5 227.9 336.9 228.3 337.8 228.7 332.6 229.1 335.9 229.5 334.9 229.9 338.1 230.3 333.4 230.7 328.8 231.1 328.3 231.5 332.9 231.9 332.3 232.3 330.4 232.7 324.7 233.1 324.3 233.5 332.1 233.9 332.7 234.3 331.3 234.7 331.9 235.1 336.1 235.5 330.9 235.9 331.6 236.3 335.3 236.7 333.1 237.1 332.1 237.5 331.8 237.9 336.2 238.3 338.5 238.7 333.8 239.1 333.4 239.5 334.7 239.9 333.7 240.3 334.5 240.7 334.4 241.1 333.9 241.5 332.0 241.9 336.6 242.3 330.5 242.7 330.2 243.1 336.3 243.5 338.4 243.9 337.0 244.3 336.4 244.7 334.2 245.1 335.8 245.5 333.6 245.9 337.4 246.3 337.5 246.7 338.7 247.1 336.9 247.5 331.1 247.9 331.6 248.3 333.4 248.7 335.7 249.1 333.0 249.5 337.4 249.9 336.1 250.3 339.8 250.7 334.3 251.1 338.7 251.5 335.7 251.9 338.9 252.3 333.4 252.7 333.0 253.1 332.0 253.5 332.7 253.9 336.9 254.3 333.1 254.7 333.8 255.1 337.1 255.5 338.1 255.9 336.8 256.3 337.6 256.7 339.1 257.1 334.0 257.5 334.0 257.9 333.1 258.3 336.4 258.7 336.5 259.1 332.4 259.5 331.6 259.9 338.8 260.3 333.2 260.7 332.4 261.1 333.6 261.5 328.1 261.9 321.3 262.3 304.5 262.5 296.2 262.7 304.5 263.1 321.3 263.5 333.6 263.9 336.8 264.3 334.6 264.7 329.0 265.1 325.4 265.5 306.7 265.9 322.9 266.3 339.8 266.7 334.3 267.1 322.7 267.5 325.7 267.9 328.7 268.3 320.4 268.7 312.2 269.1 309.7 269.5 318.0 269.9 306.5 270.3 297.3 270.7 318.6 271.1 331.2 271.5 318.2 271.9 301.8 272.3 297.1 272.7 313.5 273.1 329.9 273.5 338.4 273.9 337.2 274.3 331.3 274.7 323.0 275.1 314.7 275.5 319.8 275.9 328.0 276.3 336.3 276.7 336.9 277.1 337.4 277.5 332.0 277.9 331.9 278.3 331.4 278.7 337.6 279.1 323.2 279.5 325.8 279.9 331.2 280.3 338.0 280.7 337.9 281.1 336.8 281.5 339.6 281.9 332.4 282.3 334.2 282.7 337.6 283.1 335.3 283.5 336.9 283.9 331.6 284.3 334.2 284.7 337.5 285.1 335.0 285.5 334.5 285.9 316.5 286.3 314.1 286.7 332.1 287.1 333.0 287.5 333.0 287.9 337.1 288.3 337.6 288.7 338.8 289.1 333.5 289.5 332.9 289.9 335.6 290.3 336.6 290.7 338.8 291.1 337.0 291.5 335.0 291.9 331.9 292.3 331.3 292.7 335.0 293.1 335.4 293.5 335.7 293.9 339.4 294.3 336.7 294.7 335.7 295.1 338.1 295.5 336.4 295.9 332.6 296.3 323.9 296.7 331.1 297.1 318.1 297.5 297.5 297.8 284.6 297.9 292.3 298.3 313.0 298.7 333.6 299.1 336.4 299.5 337.4 299.9 338.1 300.3 334.4 300.7 331.9 301.1 332.5 301.5 339.2 301.9 331.4 302.3 334.0 302.7 337.4 303.1 336.5 303.5 334.2 303.9 333.7 304.3 338.2 304.7 338.0 305.1 333.8 305.5 337.9 305.9 336.6 306.3 336.1 306.7 332.8 307.1 335.4 307.5 335.3 307.9 337.2 308.3 334.8 308.7 334.0 309.1 336.1 309.5 335.5 309.9 336.2 310.3 338.1 310.7 331.6 311.1 330.5 311.5 317.9 311.9 305.3 312.3 292.7 312.7 304.4 313.1 293.9 313.4 276.4 313.5 282.2 313.9 305.6 314.3 329.0 314.7 322.0 315.1 307.4 315.5 304.3 315.9 319.0 316.3 333.6 316.7 338.7 317.1 326.5 317.5 327.3 317.9 334.1 318.3 327.2 318.7 325.1 319.1 319.3 319.5 300.7 319.9 303.8 320.3 322.4 320.7 336.0 321.1 334.0 321.5 334.0 321.9 335.3 322.3 337.7 322.7 335.6 323.1 333.8 323.5 335.1 323.9 331.6 324.3 335.7 324.7 331.7 325.1 331.5 325.5 333.1 325.9 337.1 326.3 338.4 326.7 332.3 327.1 332.7 327.5 339.7 327.9 338.4 328.3 333.6 328.7 320.8 329.1 308.0 329.1 308.0 329.5 320.8 329.9 333.6 330.3 335.1 330.7 332.0 331.1 333.8 331.5 333.7 331.9 329.6 332.3 322.5 332.7 315.3 333.1 313.9 333.5 312.9 333.9 318.4 334.3 328.0 334.7 326.0 335.1 326.9 335.5 331.5 335.9 334.5 336.3 334.4 336.7 331.3 337.1 316.0 337.5 300.8 337.5 300.8 337.9 306.6 338.3 324.9 338.7 332.9 339.1 336.0 339.5 334.1 339.9 323.5 340.3 312.9 340.7 322.4 341.1 327.4 341.5 324.0 341.9 329.1 342.3 334.2 342.7 339.3 343.1 334.3 343.5 333.3 343.9 334.9 344.3 336.1 344.7 334.8 345.1 338.5 345.5 339.2 345.9 338.7 346.3 336.4 346.7 333.3 347.1 333.3 347.5 336.7 347.9 337.5 348.3 337.8 348.7 336.6 349.1 335.1 349.5 331.7 349.9 325.7 350.3 323.4 350.7 329.3 351.1 335.3 351.5 334.2 351.9 338.1 352.3 336.0 352.7 336.5 353.1 337.8 353.5 326.7 353.9 312.0 354.3 307.8 354.7 322.5 355.1 337.0 355.5 340.4 355.9 336.2 356.3 337.9 356.7 333.6 357.1 332.6 357.5 334.3 357.9 334.6 358.3 326.8 358.7 329.0 359.1 330.1 359.5 334.6 359.9 329.8 360.3 316.4 360.6 306.3 360.7 309.7 361.1 323.1 361.5 328.9 361.9 334.1 362.3 337.2 362.7 337.7 363.1 336.9 363.5 339.4 363.9 341.5 364.3 337.0 364.7 337.2 365.1 341.8 365.5 339.3 365.9 328.6 366.3 316.7 366.5 310.7 366.7 316.7 367.1 328.6 367.5 337.2 367.9 328.4 368.3 319.6 368.7 310.8 369.1 309.1 369.5 317.9 369.9 326.7 370.3 335.5 370.7 340.4 371.1 340.6 371.5 336.8 371.9 330.9 372.3 326.6 372.7 334.3 373.1 337.9 373.5 339.2 373.9 337.7 374.3 333.5 374.7 323.0 375.1 328.3 375.5 333.3 375.9 334.2 376.3 338.1 376.7 336.8 377.1 339.7 377.5 334.1 377.9 337.1 378.3 332.8 378.7 333.3 379.1 327.1 379.5 318.6 379.9 314.7 380.3 323.2 380.7 331.6 381.1 340.1 381.5 340.4 381.9 335.2 382.3 336.9 382.7 335.8 383.1 335.2 383.5 331.5 383.9 321.6 384.3 311.7 384.7 304.2 385.1 314.0 385.5 323.9 385.9 333.2 386.3 338.6 386.7 338.8 387.1 334.8 387.5 333.3 387.9 327.7 388.3 325.4 388.7 339.8 389.1 339.0 389.5 332.1 389.9 335.2 390.3 321.9 390.7 313.7 391.1 327.0 391.5 335.6 391.9 334.8 392.3 335.2 392.7 338.2 393.1 336.5 393.5 335.5 393.9 327.6 394.3 319.6 394.7 311.1 395.1 299.5 395.5 292.6 395.9 304.7 396.3 316.9 396.7 329.2 397.1 322.1 397.5 323.8 397.9 331.1 398.3 331.9 398.7 332.1 399.1 332.1 399.5 318.3 399.9 329.2 400.3 338.8 400.7 339.1 401.1 333.4 401.5 331.2 401.9 331.1 402.3 332.3 402.7 321.2 403.1 300.9 403.4 285.7 403.5 290.8 403.9 311.0 404.3 331.3 404.7 334.4 405.1 336.3 405.5 336.3 405.9 334.3 406.3 335.7 406.7 331.2 407.1 331.9 407.5 326.1 407.9 298.8 408.3 271.6 408.4 264.8 408.7 285.2 409.1 312.5 409.5 338.4 409.9 333.8 410.3 333.6 410.7 335.9 411.1 337.4 411.5 337.0 411.9 318.0 412.3 299.0 412.5 289.6 412.7 299.0 413.1 317.8 413.5 312.2 413.9 329.3 414.3 339.5 414.7 338.9 415.1 338.2 415.5 335.5 415.9 338.0 416.3 332.5 416.7 336.5 417.1 333.4 417.5 337.2 417.9 338.7 418.3 337.6 418.7 338.6 419.1 333.4 419.5 331.1 419.9 339.1 420.3 337.0 420.7 334.3 421.1 328.3 421.5 322.4 421.9 319.9 422.3 325.8 422.7 331.7 423.1 334.0 423.5 331.2 423.9 334.0 424.3 330.9 424.7 324.5 425.1 316.5 425.5 299.3 425.6 295.1 425.9 307.9 426.3 325.1 426.7 334.7 427.1 331.7 427.5 333.9 427.9 331.3 428.3 336.2 428.7 338.5 429.1 337.9 429.5 334.0 429.9 335.7 430.3 331.5 430.7 330.7 431.1 315.7 431.5 300.3 431.5 300.3 431.9 315.7 432.3 331.1 432.7 333.1 433.1 333.6 433.5 320.4 433.9 316.8 434.3 335.2 434.7 335.0 435.1 338.6 435.5 339.7 435.9 333.9 436.3 337.1 436.7 339.1 437.1 336.3 437.5 331.4 437.9 331.9 438.3 333.2 438.7 332.7 439.1 334.9 439.5 333.7 439.9 336.4 440.3 331.4 440.7 325.7 441.1 304.9 441.5 284.1 441.5 284.1 441.9 304.9 442.3 325.7 442.7 336.2 443.1 323.3 443.5 325.0 443.9 313.3 444.3 298.5 444.7 306.9 445.1 321.7 445.5 334.4 445.9 332.3 446.3 331.0 446.7 317.6 447.1 304.2 447.5 291.6 447.9 305.0 448.3 318.5 448.7 314.6 449.1 319.2 449.5 302.1 449.9 298.7 450.3 317.0 450.7 335.4 451.1 332.9 451.5 333.8 451.9 337.1 452.3 337.1 452.7 331.3 453.1 335.0 453.5 332.0 453.9 335.5 454.3 339.3 454.7 336.1 455.1 335.8 455.5 335.6 455.9 332.0 456.3 335.5 456.7 337.3 457.1 331.8 457.5 327.0 457.9 326.0 458.3 331.2 458.7 336.3 459.1 335.8 459.5 336.9 459.9 331.5 460.3 333.8 460.7 335.5 461.1 331.8 461.5 335.1 461.9 324.3 462.3 298.9 462.7 273.5 462.8 270.3 463.1 292.5 463.5 317.9 463.9 338.5 464.3 336.7 464.7 319.4 465.1 300.9 465.5 295.3 465.9 313.8 466.3 332.2 466.7 334.7 467.1 336.4 467.5 330.5 467.9 326.6 468.3 316.6 468.7 306.6 469.1 296.6 469.5 306.5 469.9 316.5 470.3 323.2 470.7 315.4 471.1 309.6 471.5 317.4 471.9 325.2 472.3 333.0 472.7 332.3 473.1 338.5 473.5 330.6 473.9 331.1 474.3 331.7 474.7 336.9 475.1 334.4 475.5 330.4 475.9 333.0 476.3 330.1 476.7 338.2 477.1 338.2 477.5 339.2 477.9 333.4 478.3 331.4 478.7 336.9 479.1 331.4 479.5 335.4 479.9 334.0 480.3 336.5 480.7 330.6 481.1 324.8 481.5 319.0 481.9 323.3 482.3 306.8 482.7 298.0 483.1 315.6 483.5 331.7 483.9 329.8 484.3 337.2 484.7 335.9 485.1 333.4 485.5 331.1 485.9 338.7 486.3 335.1 486.7 337.5 487.1 335.1 487.5 333.5 487.9 330.3 488.3 337.2 488.7 329.7 489.1 331.2 489.5 329.7 489.9 337.1 490.3 336.9 490.7 334.3 491.1 328.3 491.5 320.3 491.9 313.5 492.3 321.5 492.7 329.5 493.1 336.6 493.5 330.4 493.9 330.9 494.3 331.5 494.7 329.7 495.1 333.5 495.5 338.8 495.9 336.0 496.3 335.1 496.7 336.0 497.1 334.1 497.5 330.4 497.9 334.1 498.3 330.1 498.7 324.3 499.1 306.5 499.4 293.1 499.5 297.6 499.9 315.4 500.3 329.2 500.7 324.3 501.1 325.7 501.5 327.0 501.9 328.3 502.3 329.2 502.7 333.2 503.1 333.2 503.5 338.0 503.9 337.8 504.3 338.0 504.7 335.9 505.1 334.7 505.5 334.4 505.9 328.9 506.3 324.1 506.7 316.1 507.1 325.0 507.5 331.3 507.9 332.2 508.3 336.8 508.7 334.1 509.1 333.5 509.5 318.5 509.9 309.0 510.3 324.1 510.7 332.9 511.1 320.4 511.5 322.6 511.9 329.8 512.3 331.8 512.7 338.1 513.1 329.2 513.5 332.1 513.9 333.4 514.3 333.5 514.7 337.2 515.1 332.9 515.5 338.0 515.9 329.3 516.3 338.0 516.7 334.2 517.1 336.7 517.5 331.2 517.9 330.8 518.3 325.9 518.7 315.6 519.1 303.9 519.5 306.5 519.9 318.2 520.3 329.9 520.7 331.9 521.1 323.6 521.5 315.4 521.9 316.4 522.3 324.7 522.7 331.4 523.1 338.1 523.5 336.4 523.9 319.2 524.3 297.4 524.6 281.0 524.7 286.5 525.1 308.3 525.5 330.1 525.9 336.8 526.3 334.8 526.7 330.3 527.1 325.8 527.5 328.2 527.9 332.7 528.3 329.6 528.7 320.8 529.1 318.9 529.5 331.8 529.9 336.6 530.3 337.9 530.7 335.4 531.1 336.0 531.5 329.2 531.9 329.5 532.3 335.4 532.7 334.8 533.1 330.7 533.5 324.8 533.9 312.8 534.3 300.8 534.7 311.9 535.1 323.8 535.5 335.8 535.9 338.3 536.3 329.8 536.7 329.4 537.1 329.1 537.5 324.2 537.9 329.4 538.3 321.2 538.7 312.9 539.1 313.5 539.5 321.8 539.9 330.0 540.3 336.4 540.7 337.3 541.1 329.2 541.5 331.0 541.9 319.8 542.3 307.7 542.7 301.2 543.1 313.3 543.5 325.4 543.9 334.9 544.3 330.8 544.7 331.6 545.1 330.3 545.5 321.5 545.9 312.8 546.3 312.4 546.7 321.1 547.1 329.9 547.5 333.7 547.9 331.6 548.3 331.1 548.7 308.9 549.1 283.9 549.3 271.4 549.5 283.9 549.9 308.9 550.3 332.8 550.7 338.3 551.1 335.7 551.5 325.1 551.9 306.5 552.3 287.8 552.7 301.7 553.1 320.4 553.5 324.3 553.9 304.3 554.3 294.2 554.7 292.8 555.1 312.6 555.5 329.0 555.9 331.2 556.3 330.5 556.7 332.4 557.1 337.0 557.5 332.8 557.9 327.4 558.3 330.1 558.7 331.1 559.1 332.7 559.5 333.1 559.9 316.1 560.3 299.2 560.7 301.8 561.1 318.7 561.5 335.6 561.9 332.2 562.3 332.5 562.7 328.8 563.1 319.5 563.5 315.7 563.9 325.0 564.3 334.3 564.7 337.3 565.1 328.9 565.5 331.5 565.9 338.6 566.3 335.1 566.7 329.1 567.1 337.7 567.5 335.3 567.9 332.0 568.3 330.6 568.7 330.9 569.1 331.6 569.5 329.8 569.9 325.7 570.3 332.7 570.7 337.3 571.1 335.7 571.5 323.6 571.9 300.7 572.3 277.7 572.3 277.7 572.7 300.7 573.1 309.0 573.5 318.5 573.6 320.8 573.6 346.5 570.5 346.5 570.0 343.3 569.5 338.5 569.0 338.5 568.5 344.1 568.0 346.5 567.5 344.6 567.0 339.6 566.5 339.6 566.0 343.5 565.5 346.5 562.5 346.5 562.0 340.9 561.5 340.2 561.0 343.4 560.5 346.5 558.0 346.5 557.5 345.2 557.0 341.9 556.5 344.4 556.0 346.5 555.5 346.5 555.0 346.2 554.5 339.8 554.0 340.7 553.5 346.5 553.0 342.2 552.5 338.7 552.0 342.9 551.5 346.5 551.0 343.7 550.5 342.2 550.0 344.3 549.5 346.5 545.5 346.5 545.0 343.2 544.5 342.5 544.0 344.4 543.5 346.5 543.0 345.0 542.5 338.5 542.0 338.7 541.5 346.5 541.0 346.5 540.5 338.7 540.0 342.2 539.5 341.2 539.0 344.6 538.5 337.8 538.0 342.1 537.5 341.4 537.0 341.5 536.5 346.3 536.0 346.5 535.0 346.5 534.5 339.7 534.0 338.6 533.5 346.5 527.5 346.5 527.0 345.8 526.5 338.7 526.0 338.7 525.5 343.8 525.0 346.5 523.5 346.5 523.0 343.2 522.5 342.0 522.0 344.1 521.5 338.7 521.0 340.0 520.5 346.5 517.5 346.5 517.0 344.3 516.5 340.9 516.0 340.9 515.5 345.5 515.0 346.5 500.0 346.5 499.5 343.7 499.0 340.9 498.5 344.5 498.0 342.3 497.5 341.3 497.0 345.5 496.5 346.5 489.0 346.5 488.5 343.4 488.0 339.3 487.5 346.0 487.0 346.5 478.5 346.5 478.0 343.7 477.5 341.8 477.0 342.1 476.5 346.0 476.0 346.5 475.5 346.5 475.0 343.5 474.5 342.7 474.0 343.5 473.5 346.5 472.0 346.5 471.5 344.7 471.0 341.9 470.5 344.1 470.0 346.5 468.5 346.5 468.0 343.5 467.5 340.6 467.0 345.9 466.5 346.5 464.0 346.5 463.5 345.7 463.0 342.0 462.5 337.8 462.0 344.3 461.5 344.5 461.0 342.8 460.5 341.5 460.0 344.6 459.5 346.5 452.0 346.5 451.5 346.2 451.0 339.4 450.5 338.6 450.0 342.0 449.5 346.5 449.0 346.5 448.5 345.1 448.0 340.7 447.5 340.7 447.0 344.7 446.5 346.5 446.0 346.5 445.5 343.5 445.0 341.5 444.5 346.5 439.0 346.5 438.5 342.2 438.0 339.6 437.5 339.6 437.0 343.8 436.5 346.5 436.0 343.1 435.5 342.9 435.0 346.5 426.0 346.5 425.5 341.5 425.0 340.6 424.5 344.3 424.0 343.2 423.5 343.2 423.0 340.3 422.5 340.3 422.0 343.5 421.5 346.5 421.0 346.5 420.5 339.7 420.0 339.7 419.5 346.5 419.0 341.4 418.5 341.4 418.0 346.5 417.5 346.5 417.0 344.5 416.5 338.6 416.0 340.6 415.5 346.5 402.0 346.5 401.5 346.3 401.0 341.8 400.5 346.3 400.0 346.5 397.5 346.5 397.0 341.8 396.5 340.9 396.0 346.5 395.5 346.5 395.0 342.0 394.5 340.4 394.0 340.5 393.5 345.0 393.0 346.5 389.5 346.5 389.0 341.9 388.5 340.3 388.0 342.4 387.5 346.5 386.0 346.5 385.5 345.0 385.0 339.3 384.5 339.3 384.0 345.6 383.5 346.5 381.0 346.5 380.5 339.1 380.0 342.9 379.5 346.5 375.5 346.5 375.0 344.5 374.5 339.7 374.0 339.7 373.5 341.9 373.0 340.1 372.5 341.5 372.0 346.5 359.0 346.5 358.5 346.3 358.0 343.4 357.5 342.6 357.0 343.0 356.5 346.0 356.0 346.5 355.0 346.5 354.5 343.7 354.0 340.1 353.5 340.1 353.0 344.2 352.5 344.4 352.0 339.8 351.5 346.5 349.0 346.5 348.5 340.2 348.0 339.6 347.5 339.9 347.0 344.4 346.5 346.5 342.0 346.5 341.5 343.8 341.0 343.1 340.5 344.9 340.0 345.9 339.5 340.0 339.0 341.5 338.5 346.5 333.5 346.5 333.0 345.2 332.5 342.2 332.0 343.1 331.5 342.3 331.0 342.1 330.5 346.5 322.5 346.5 322.0 338.6 321.5 343.2 321.0 346.5 320.5 338.8 320.0 340.7 319.5 346.5 310.5 346.5 310.0 342.4 309.5 338.4 309.0 345.9 308.5 346.5 308.0 346.5 307.5 343.3 307.0 341.5 306.5 341.5 306.0 344.8 305.5 346.5 305.0 346.5 304.5 344.6 304.0 340.5 303.5 340.5 303.0 342.4 302.5 346.5 298.5 346.5 298.0 344.7 297.5 340.7 297.0 341.9 296.5 346.5 293.0 346.5 292.5 339.5 292.0 337.8 291.5 343.1 291.0 346.5 288.5 346.5 288.0 346.5 287.5 337.9 287.0 337.9 286.5 346.0 286.0 346.5 259.0 346.5 258.5 345.4 258.0 341.9 257.5 341.9 257.0 346.3 256.5 346.5 250.5 346.5 250.0 340.9 249.5 343.9 249.0 346.5 248.0 346.5 247.5 344.6 247.0 342.7 246.5 345.5 246.0 346.5 242.5 346.5 242.0 344.2 241.5 341.0 241.0 341.7 240.5 346.5 235.0 346.5 234.5 342.4 234.0 338.4 233.5 338.4 233.0 343.1 232.5 346.5 230.5 346.5 230.0 345.2 229.5 338.8 229.0 338.8 228.5 342.8 228.0 346.5 227.5 346.5 227.0 346.1 226.5 338.8 226.0 338.8 225.5 345.5 225.0 346.5 224.5 345.9 224.0 343.0 223.5 343.0 223.0 342.7 222.5 339.6 222.0 339.6 221.5 342.8 221.0 339.3 220.5 342.3 220.0 343.6 219.5 342.5 219.0 342.6 218.5 342.2 218.0 343.7 217.5 340.4 217.0 339.1 216.5 339.9 216.0 345.5 215.5 346.5 212.5 346.5 212.0 340.9 211.5 338.9 211.0 343.7 210.5 346.5 200.5 346.5 200.0 342.6 199.5 338.9 199.0 342.3 198.5 344.5 198.0 338.0 197.5 345.8 197.0 346.5 190.0 346.5 189.5 345.9 189.0 341.9 188.5 341.5 188.0 341.5 187.5 341.5 187.0 343.1 186.5 346.5 186.0 343.5 185.5 343.0 185.0 345.2 184.5 346.5 183.5 346.5 183.0 343.1 182.5 341.7 182.0 346.1 181.5 346.5 154.5 346.5 154.0 345.8 153.5 338.1 153.0 338.1 152.5 345.8 152.0 346.5 150.0 346.5 149.5 344.0 149.0 341.8 148.5 346.5 146.0 346.5 145.5 341.9 145.0 340.5 144.5 343.8 144.0 346.5 138.0 346.5 137.5 345.9 137.0 341.5 136.5 340.7 136.0 341.9 135.5 346.2 135.0 346.5 134.0 346.5 133.5 345.4 133.0 339.8 132.5 339.7 132.0 342.5 131.5 346.5 130.5 346.5 130.0 340.5 129.5 337.7 129.0 337.7 128.5 342.7 128.0 346.5 117.0 346.5 116.5 344.6 116.0 341.9 115.5 341.9 115.0 344.8 114.5 346.5 109.0 346.5 108.5 345.8 108.0 340.0 107.5 346.5 106.5 346.5 106.0 341.9 105.5 339.8 105.0 344.7 104.5 346.5 102.5 346.5 102.0 343.3 101.5 337.9 101.0 337.8 100.5 343.0 100.0 346.5 98.0 346.5 97.5 343.5 97.0 341.2 96.5 341.3 96.0 345.6 95.5 346.5 95.0 345.0 94.5 341.0 94.0 342.1 93.5 340.9 93.0 340.9 92.5 343.9 92.0 346.5 89.0 346.5 88.5 340.6 88.0 338.6 87.5 345.4 87.0 346.5 82.5 346.5 82.0 340.1 81.5 344.5 81.0 346.5 77.5 346.5Z" fill="#ED5E93" stroke="#ED5E93" stroke-width="0.5" stroke-linejoin="round"/>
<path d="M62.5 30V355.5H588.5" stroke="#000" stroke-width="1.1" fill="none"/>
<path d="M77.50 355.5v-4.9M219.17 355.5v-4.9M360.84 355.5v-4.9M502.51 355.5v-4.9M62.5 346.48h4.9M62.5 277.74h4.9M62.5 209.00h4.9M62.5 140.25h4.9M62.5 71.51h4.9" stroke="#000" stroke-width="1.1" fill="none"/>
<text x="54.2" y="351.08" font-family="DejaVu Sans, Liberation Sans, sans-serif" font-size="11.9" text-anchor="end">0.00</text>
<text x="54.2" y="282.34" font-family="DejaVu Sans, Liberation Sans, sans-serif" font-size="11.9" text-anchor="end">0.25</text>
<text x="54.2" y="213.59" font-family="DejaVu Sans, Liberation Sans, sans-serif" font-size="11.9" text-anchor="end">0.50</text>
<text x="54.2" y="144.85" font-family="DejaVu Sans, Liberation Sans, sans-serif" font-size="11.9" text-anchor="end">0.75</text>
<text x="54.2" y="76.11" font-family="DejaVu Sans, Liberation Sans, sans-serif" font-size="11.9" text-anchor="end">1.00</text>
<text x="77.50" y="371.8" font-family="DejaVu Sans, Liberation Sans, sans-serif" font-size="11.9" text-anchor="middle">0</text>
<text x="219.17" y="371.8" font-family="DejaVu Sans, Liberation Sans, sans-serif" font-size="11.9" text-anchor="middle">1000</text>
<text x="360.84" y="371.8" font-family="DejaVu Sans, Liberation Sans, sans-serif" font-size="11.9" text-anchor="middle">2000</text>
<text x="502.51" y="371.8" font-family="DejaVu Sans, Liberation Sans, sans-serif" font-size="11.9" text-anchor="middle">3000</text>
<text x="325.8" y="391.8" font-family="DejaVu Sans, Liberation Sans, sans-serif" font-size="16.4" text-anchor="middle">Time</text>
<text transform="translate(15.9 193.6) rotate(-90)" x="0" y="0" font-family="DejaVu Sans, Liberation Sans, sans-serif" font-size="16.3" text-anchor="middle">Energy</text>
<text x="325.5" y="18" font-family="DejaVu Sans, Liberation Sans, sans-serif" font-size="20.7" text-anchor="middle">Energy Over Time for Modes 1, 3, 5, 7, 9, 11, 13</text>
<rect x="469.1" y="41.5" width="101.4" height="103.5" fill="#fff" stroke="#000" stroke-width="1"/>
<path d="M474.5 54.50H510" stroke="#009AFA" stroke-width="1.25"/>
<text x="514.4" y="58.90" font-family="DejaVu Sans, Liberation Sans, sans-serif" font-size="11.9">Mode 1</text>
<path d="M474.5 67.50H510" stroke="#E36F47" stroke-width="1.25"/>
<text x="514.4" y="71.90" font-family="DejaVu Sans, Liberation Sans, sans-serif" font-size="11.9">Mode 3</text>
<path d="M474.5 80.50H510" stroke="#3EA44E" stroke-width="1.25"/>
<text x="514.4" y="84.90" font-family="DejaVu Sans, Liberation Sans, sans-serif" font-size="11.9">Mode 5</text>
<path d="M474.5 93.50H510" stroke="#C371D2" stroke-width="1.25"/>
<text x="514.4" y="97.90" font-family="DejaVu Sans, Liberation Sans, sans-serif" font-size="11.9">Mode 7</text>
<path d="M474.5 106.50H510" stroke="#AC8E18" stroke-width="1.25"/>
<text x="514.4" y="110.90" font-family="DejaVu Sans, Liberation Sans, sans-serif" font-size="11.9">Mode 9</text>
<path d="M474.5 119.50H510" stroke="#00A9AD" stroke-width="1.25"/>
<text x="514.4" y="123.90" font-family="DejaVu Sans, Liberation Sans, sans-serif" font-size="11.9">Mode 11</text>
<path d="M474.5 132.50H510" stroke="#ED5E93" stroke-width="1.25"/>
<text x="514.4" y="136.90" font-family="DejaVu Sans, Liberation Sans, sans-serif" font-size="11.9">Mode 13</text>
</svg></body></html>
